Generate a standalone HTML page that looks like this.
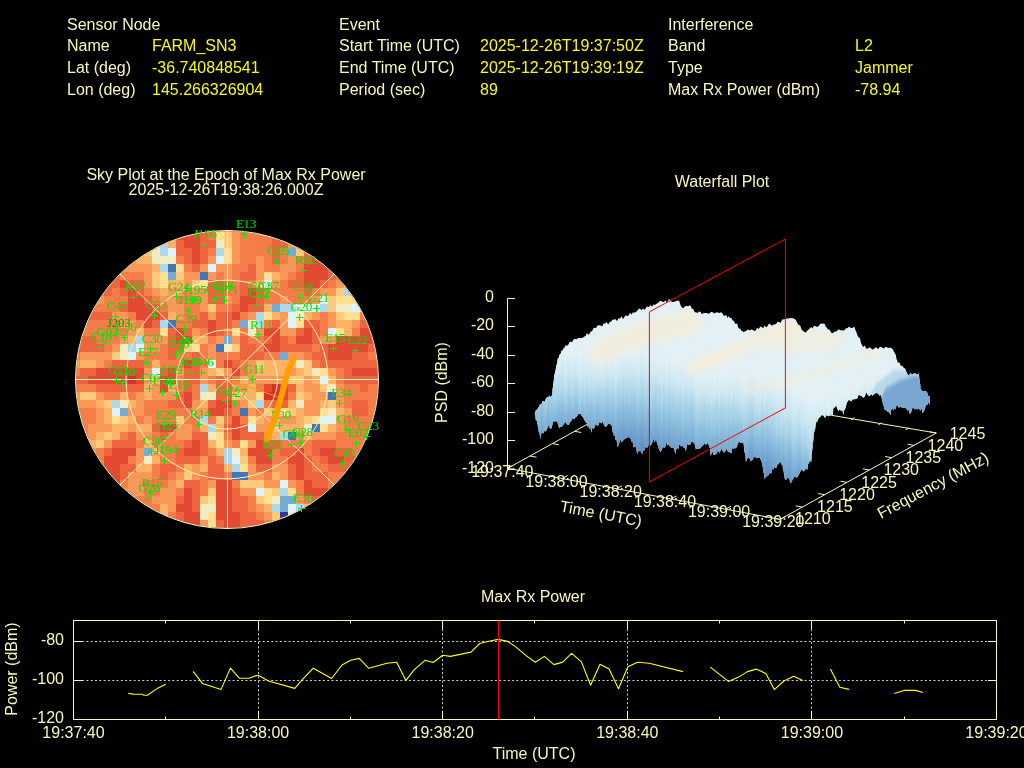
<!DOCTYPE html>
<html><head><meta charset="utf-8">
<style>
html,body{margin:0;padding:0;background:#000;width:1024px;height:768px;overflow:hidden}
svg{display:block;position:absolute;left:0;top:0;opacity:0.999}
text{font-family:"Liberation Sans",sans-serif;font-size:16px;fill:#f7f7bc}
.v{fill:#f8f81c}
.grid{stroke:#d0d0d0;stroke-width:1;stroke-dasharray:2 2.3;fill:none}
.ax{stroke:#f7f7bc;stroke-width:1;fill:none}
.dl{stroke:#ffff00;stroke-width:1.1;fill:none;stroke-linejoin:round}
.g{font-family:"Liberation Serif",serif;font-size:13px;fill:#00e400;letter-spacing:-0.25px}
.gd{fill:#00a000}
</style></head><body>
<svg width="1024" height="768" viewBox="0 0 1024 768">
<rect width="1024" height="768" fill="#000"/>
<!-- HEADER -->
<g id="hdr">
<text x="67" y="30">Sensor Node</text>
<text x="67" y="51">Name</text><text class="v" x="152" y="51">FARM_SN3</text>
<text x="67" y="73">Lat (deg)</text><text class="v" x="152" y="73">-36.740848541</text>
<text x="67" y="95">Lon (deg)</text><text class="v" x="152" y="95">145.266326904</text>
<text x="339" y="30">Event</text>
<text x="339" y="51">Start Time (UTC)</text><text class="v" x="480" y="51">2025-12-26T19:37:50Z</text>
<text x="339" y="73">End Time (UTC)</text><text class="v" x="480" y="73">2025-12-26T19:39:19Z</text>
<text x="339" y="95">Period (sec)</text><text class="v" x="480" y="95">89</text>
<text x="668" y="30">Interference</text>
<text x="668" y="51">Band</text><text class="v" x="855" y="51">L2</text>
<text x="668" y="73">Type</text><text class="v" x="855" y="73">Jammer</text>
<text x="668" y="95">Max Rx Power (dBm)</text><text class="v" x="855" y="95">-78.94</text>
</g>
<!-- TITLES -->
<text x="226" y="180" text-anchor="middle">Sky Plot at the Epoch of Max Rx Power</text>
<text x="226" y="195" text-anchor="middle">2025-12-26T19:38:26.000Z</text>
<text x="722" y="187" text-anchor="middle">Waterfall Plot</text>
<text x="533" y="602" text-anchor="middle">Max Rx Power</text>
<!-- SKY -->
<g id="sky">
<clipPath id="skc"><ellipse cx="227.0" cy="379.5" rx="151.0" ry="148.5"/></clipPath>
<g clip-path="url(#skc)" shape-rendering="crispEdges">
<rect x="70" y="225" width="320" height="310" fill="#ee643e"/>
<path fill="#d73027" d="M128 376h8v8h-8zM272 384h8v8h-8zM264 392h16v8h-16z"/>
<path fill="#e34a33" d="M176 224h16v8h-16zM176 232h24v8h-24zM336 232h8v8h-8zM184 240h16v8h-16zM328 240h16v8h-16zM192 248h8v8h-8zM320 248h16v8h-16zM192 256h8v8h-8zM312 256h16v8h-16zM304 264h24v8h-24zM304 272h24v8h-24zM120 280h8v8h-8zM304 280h16v8h-16zM128 288h8v8h-8zM248 288h8v8h-8zM128 296h16v8h-16zM240 296h16v8h-16zM128 304h24v8h-24zM240 304h8v8h-8zM136 312h24v8h-24zM232 312h8v8h-8zM384 312h8v8h-8zM144 320h8v8h-8zM208 320h8v8h-8zM376 320h16v8h-16zM176 328h8v8h-8zM208 328h8v8h-8zM264 328h16v8h-16zM304 328h8v8h-8zM360 328h32v8h-32zM176 336h16v8h-16zM272 336h8v8h-8zM296 336h16v8h-16zM336 336h56v8h-56zM264 344h16v8h-16zM328 344h40v8h-40zM328 352h24v8h-24zM184 360h8v8h-8zM224 360h8v8h-8zM96 368h48v8h-48zM168 368h8v8h-8zM232 368h8v8h-8zM352 368h40v8h-40zM88 376h40v8h-40zM136 376h8v8h-8zM160 376h16v8h-16zM160 384h8v8h-8zM264 384h8v8h-8zM280 384h8v8h-8zM184 392h8v8h-8zM280 392h8v8h-8zM184 400h8v8h-8zM216 400h16v8h-16zM208 408h16v8h-16zM232 416h8v8h-8zM160 424h16v8h-16zM232 424h8v8h-8zM232 432h8v8h-8zM192 440h8v8h-8zM256 440h8v8h-8zM112 448h24v8h-24zM184 448h16v8h-16zM248 448h24v8h-24zM296 448h8v8h-8zM320 448h16v8h-16zM104 456h24v8h-24zM256 456h16v8h-16zM288 456h16v8h-16zM328 456h16v8h-16zM96 464h24v8h-24zM296 464h8v8h-8zM88 472h32v8h-32zM296 472h8v8h-8zM80 480h40v8h-40zM216 480h16v8h-16zM304 480h8v8h-8zM80 488h32v8h-32zM184 488h8v8h-8zM216 488h16v8h-16zM304 488h24v8h-24zM88 496h16v8h-16zM184 496h8v8h-8zM216 496h16v8h-16zM88 504h8v8h-8zM176 504h16v8h-16zM216 504h16v8h-16zM184 512h16v8h-16zM216 512h24v8h-24zM184 520h16v8h-16zM224 520h16v8h-16zM184 528h16v8h-16zM224 528h16v8h-16zM184 536h16v8h-16zM224 536h16v8h-16z"/>
<path fill="#ee643e" d="M168 224h8v8h-8zM192 224h16v8h-16zM272 224h32v8h-32zM320 224h16v8h-16zM168 232h8v8h-8zM200 232h8v8h-8zM272 232h24v8h-24zM312 232h24v8h-24zM176 240h8v8h-8zM200 240h16v8h-16zM272 240h16v8h-16zM304 240h24v8h-24zM344 240h16v8h-16zM88 248h8v8h-8zM176 248h16v8h-16zM200 248h8v8h-8zM272 248h8v8h-8zM304 248h16v8h-16zM336 248h24v8h-24zM80 256h24v8h-24zM184 256h8v8h-8zM200 256h8v8h-8zM272 256h8v8h-8zM304 256h8v8h-8zM328 256h24v8h-24zM72 264h40v8h-40zM192 264h8v8h-8zM248 264h8v8h-8zM328 264h16v8h-16zM72 272h48v8h-48zM240 272h16v8h-16zM296 272h8v8h-8zM328 272h8v8h-8zM72 280h48v8h-48zM128 280h16v8h-16zM208 280h16v8h-16zM240 280h8v8h-8zM288 280h16v8h-16zM320 280h8v8h-8zM80 288h32v8h-32zM120 288h8v8h-8zM136 288h8v8h-8zM208 288h16v8h-16zM240 288h8v8h-8zM256 288h8v8h-8zM304 288h8v8h-8zM144 296h8v8h-8zM208 296h16v8h-16zM256 296h8v8h-8zM120 304h8v8h-8zM152 304h8v8h-8zM232 304h8v8h-8zM248 304h16v8h-16zM80 312h32v8h-32zM160 312h8v8h-8zM200 312h8v8h-8zM216 312h16v8h-16zM152 320h8v8h-8zM192 320h16v8h-16zM216 320h16v8h-16zM272 320h8v8h-8zM304 320h16v8h-16zM360 320h16v8h-16zM168 328h8v8h-8zM184 328h8v8h-8zM216 328h8v8h-8zM296 328h8v8h-8zM312 328h8v8h-8zM72 336h24v8h-24zM168 336h8v8h-8zM240 336h8v8h-8zM264 336h8v8h-8zM280 336h8v8h-8zM312 336h8v8h-8zM72 344h32v8h-32zM168 344h16v8h-16zM240 344h16v8h-16zM280 344h32v8h-32zM320 344h8v8h-8zM368 344h16v8h-16zM168 352h8v8h-8zM192 352h8v8h-8zM240 352h24v8h-24zM312 352h16v8h-16zM352 352h16v8h-16zM112 360h32v8h-32zM192 360h8v8h-8zM232 360h8v8h-8zM320 360h72v8h-72zM80 368h16v8h-16zM160 368h8v8h-8zM184 368h16v8h-16zM344 368h8v8h-8zM72 376h16v8h-16zM184 376h16v8h-16zM216 376h16v8h-16zM344 376h48v8h-48zM96 384h48v8h-48zM184 384h8v8h-8zM216 384h16v8h-16zM288 384h8v8h-8zM360 384h8v8h-8zM176 392h8v8h-8zM216 392h16v8h-16zM168 400h16v8h-16zM208 400h8v8h-8zM272 400h16v8h-16zM352 400h16v8h-16zM224 408h8v8h-8zM352 408h16v8h-16zM152 424h8v8h-8zM224 424h8v8h-8zM240 424h8v8h-8zM128 432h8v8h-8zM160 432h8v8h-8zM192 432h16v8h-16zM240 432h24v8h-24zM112 440h24v8h-24zM184 440h8v8h-8zM200 440h8v8h-8zM264 440h16v8h-16zM312 440h24v8h-24zM104 448h8v8h-8zM176 448h8v8h-8zM200 448h8v8h-8zM280 448h16v8h-16zM312 448h8v8h-8zM336 448h16v8h-16zM176 456h24v8h-24zM208 456h8v8h-8zM304 456h8v8h-8zM320 456h8v8h-8zM344 456h16v8h-16zM120 464h16v8h-16zM160 464h16v8h-16zM208 464h16v8h-16zM256 464h16v8h-16zM288 464h8v8h-8zM304 464h8v8h-8zM328 464h40v8h-40zM120 472h8v8h-8zM160 472h8v8h-8zM208 472h16v8h-16zM288 472h8v8h-8zM304 472h24v8h-24zM352 472h24v8h-24zM184 480h16v8h-16zM312 480h16v8h-16zM360 480h16v8h-16zM192 488h8v8h-8zM232 488h8v8h-8zM328 488h24v8h-24zM368 488h8v8h-8zM176 496h8v8h-8zM192 496h8v8h-8zM232 496h16v8h-16zM312 496h48v8h-48zM192 504h8v8h-8zM232 504h16v8h-16zM320 504h40v8h-40zM176 512h8v8h-8zM240 512h16v8h-16zM328 512h32v8h-32zM168 520h16v8h-16zM216 520h8v8h-8zM240 520h24v8h-24zM336 520h8v8h-8zM160 528h24v8h-24zM216 528h8v8h-8zM240 528h24v8h-24zM152 536h32v8h-32zM216 536h8v8h-8zM240 536h24v8h-24z"/>
<path fill="#f47d4a" d="M208 224h8v8h-8zM232 224h40v8h-40zM208 232h8v8h-8zM240 232h32v8h-32zM240 240h32v8h-32zM208 248h8v8h-8zM240 248h32v8h-32zM280 248h8v8h-8zM360 248h8v8h-8zM176 256h8v8h-8zM240 256h16v8h-16zM264 256h8v8h-8zM280 256h8v8h-8zM296 256h8v8h-8zM352 256h16v8h-16zM184 264h8v8h-8zM232 264h16v8h-16zM264 264h16v8h-16zM296 264h8v8h-8zM344 264h16v8h-16zM120 272h24v8h-24zM216 272h8v8h-8zM232 272h8v8h-8zM288 272h8v8h-8zM336 272h16v8h-16zM224 280h16v8h-16zM248 280h8v8h-8zM280 280h8v8h-8zM328 280h8v8h-8zM72 288h8v8h-8zM112 288h8v8h-8zM144 288h8v8h-8zM184 288h8v8h-8zM224 288h16v8h-16zM264 288h40v8h-40zM312 288h8v8h-8zM72 296h16v8h-16zM104 296h24v8h-24zM152 296h8v8h-8zM176 296h24v8h-24zM232 296h8v8h-8zM264 296h16v8h-16zM288 296h24v8h-24zM72 304h48v8h-48zM160 304h8v8h-8zM184 304h16v8h-16zM216 304h16v8h-16zM72 312h8v8h-8zM128 312h8v8h-8zM184 312h16v8h-16zM240 312h8v8h-8zM320 312h8v8h-8zM360 312h24v8h-24zM72 320h48v8h-48zM136 320h8v8h-8zM176 320h16v8h-16zM232 320h8v8h-8zM264 320h8v8h-8zM320 320h8v8h-8zM72 328h56v8h-56zM144 328h16v8h-16zM200 328h8v8h-8zM224 328h8v8h-8zM240 328h8v8h-8zM320 328h8v8h-8zM352 328h8v8h-8zM96 336h24v8h-24zM208 336h8v8h-8zM248 336h16v8h-16zM288 336h8v8h-8zM104 344h8v8h-8zM160 344h8v8h-8zM200 344h8v8h-8zM256 344h8v8h-8zM312 344h8v8h-8zM384 344h8v8h-8zM72 352h8v8h-8zM144 352h24v8h-24zM176 352h16v8h-16zM200 352h8v8h-8zM216 352h24v8h-24zM264 352h16v8h-16zM304 352h8v8h-8zM368 352h24v8h-24zM104 360h8v8h-8zM144 360h8v8h-8zM160 360h24v8h-24zM200 360h8v8h-8zM216 360h8v8h-8zM240 360h8v8h-8zM312 360h8v8h-8zM72 368h8v8h-8zM240 368h8v8h-8zM336 368h8v8h-8zM176 376h8v8h-8zM208 376h8v8h-8zM232 376h8v8h-8zM336 376h8v8h-8zM72 384h24v8h-24zM176 384h8v8h-8zM192 384h8v8h-8zM256 384h8v8h-8zM344 384h16v8h-16zM368 384h24v8h-24zM104 392h16v8h-16zM128 392h8v8h-8zM192 392h8v8h-8zM288 392h8v8h-8zM344 392h48v8h-48zM144 400h24v8h-24zM232 400h8v8h-8zM264 400h8v8h-8zM344 400h8v8h-8zM368 400h24v8h-24zM72 408h24v8h-24zM144 408h48v8h-48zM232 408h8v8h-8zM256 408h8v8h-8zM368 408h24v8h-24zM72 416h24v8h-24zM136 416h8v8h-8zM152 416h24v8h-24zM184 416h16v8h-16zM208 416h8v8h-8zM224 416h8v8h-8zM240 416h8v8h-8zM344 416h48v8h-48zM72 424h16v8h-16zM192 424h8v8h-8zM344 424h48v8h-48zM72 432h16v8h-16zM120 432h8v8h-8zM152 432h8v8h-8zM168 432h8v8h-8zM224 432h8v8h-8zM336 432h56v8h-56zM72 440h8v8h-8zM136 440h8v8h-8zM152 440h32v8h-32zM232 440h8v8h-8zM280 440h32v8h-32zM336 440h56v8h-56zM96 448h8v8h-8zM160 448h16v8h-16zM208 448h8v8h-8zM272 448h8v8h-8zM304 448h8v8h-8zM352 448h40v8h-40zM88 456h16v8h-16zM128 456h8v8h-8zM160 456h16v8h-16zM216 456h8v8h-8zM248 456h8v8h-8zM272 456h16v8h-16zM312 456h8v8h-8zM360 456h32v8h-32zM80 464h16v8h-16zM152 464h8v8h-8zM176 464h8v8h-8zM312 464h16v8h-16zM368 464h16v8h-16zM72 472h16v8h-16zM152 472h8v8h-8zM168 472h8v8h-8zM200 472h8v8h-8zM224 472h8v8h-8zM264 472h8v8h-8zM328 472h24v8h-24zM376 472h8v8h-8zM72 480h8v8h-8zM120 480h8v8h-8zM144 480h24v8h-24zM200 480h8v8h-8zM232 480h8v8h-8zM296 480h8v8h-8zM328 480h32v8h-32zM144 488h16v8h-16zM176 488h8v8h-8zM200 488h8v8h-8zM296 488h8v8h-8zM352 488h16v8h-16zM136 496h16v8h-16zM248 496h8v8h-8zM304 496h8v8h-8zM360 496h8v8h-8zM136 504h24v8h-24zM248 504h8v8h-8zM128 512h24v8h-24zM168 512h8v8h-8zM256 512h8v8h-8zM120 520h24v8h-24zM264 520h8v8h-8zM120 528h16v8h-16zM264 528h8v8h-8zM264 536h8v8h-8z"/>
<path fill="#f99858" d="M224 224h8v8h-8zM304 224h16v8h-16zM104 232h16v8h-16zM232 232h8v8h-8zM296 232h16v8h-16zM96 240h32v8h-32zM232 240h8v8h-8zM288 240h16v8h-16zM96 248h40v8h-40zM232 248h8v8h-8zM104 256h32v8h-32zM208 256h8v8h-8zM232 256h8v8h-8zM256 256h8v8h-8zM288 256h8v8h-8zM112 264h40v8h-40zM200 264h8v8h-8zM216 264h16v8h-16zM256 264h8v8h-8zM280 264h16v8h-16zM144 272h8v8h-8zM184 272h16v8h-16zM208 272h8v8h-8zM224 272h8v8h-8zM256 272h8v8h-8zM280 272h8v8h-8zM144 280h8v8h-8zM184 280h8v8h-8zM272 280h8v8h-8zM336 280h8v8h-8zM152 288h8v8h-8zM168 288h16v8h-16zM192 288h16v8h-16zM320 288h16v8h-16zM88 296h16v8h-16zM160 296h16v8h-16zM200 296h8v8h-8zM224 296h8v8h-8zM280 296h8v8h-8zM312 296h8v8h-8zM168 304h16v8h-16zM200 304h8v8h-8zM112 312h16v8h-16zM176 312h8v8h-8zM208 312h8v8h-8zM248 312h8v8h-8zM280 312h8v8h-8zM312 312h8v8h-8zM328 312h8v8h-8zM120 320h16v8h-16zM280 320h8v8h-8zM328 320h8v8h-8zM352 320h8v8h-8zM128 328h8v8h-8zM192 328h8v8h-8zM256 328h8v8h-8zM280 328h16v8h-16zM120 336h8v8h-8zM144 336h24v8h-24zM216 336h8v8h-8zM232 336h8v8h-8zM320 336h16v8h-16zM112 344h8v8h-8zM144 344h16v8h-16zM208 344h8v8h-8zM80 352h32v8h-32zM136 352h8v8h-8zM208 352h8v8h-8zM288 352h16v8h-16zM72 360h8v8h-8zM96 360h8v8h-8zM248 360h8v8h-8zM144 368h8v8h-8zM176 368h8v8h-8zM200 368h8v8h-8zM224 368h8v8h-8zM248 368h8v8h-8zM288 368h8v8h-8zM328 368h8v8h-8zM144 376h8v8h-8zM200 376h8v8h-8zM248 376h40v8h-40zM304 376h8v8h-8zM152 384h8v8h-8zM232 384h16v8h-16zM304 384h16v8h-16zM336 384h8v8h-8zM72 392h8v8h-8zM96 392h8v8h-8zM136 392h8v8h-8zM152 392h24v8h-24zM312 392h16v8h-16zM336 392h8v8h-8zM72 400h24v8h-24zM136 400h8v8h-8zM192 400h8v8h-8zM240 400h8v8h-8zM304 400h16v8h-16zM336 400h8v8h-8zM96 408h8v8h-8zM128 408h16v8h-16zM192 408h16v8h-16zM248 408h8v8h-8zM304 408h16v8h-16zM344 408h8v8h-8zM96 416h8v8h-8zM144 416h8v8h-8zM264 416h8v8h-8zM280 416h16v8h-16zM336 416h8v8h-8zM88 424h24v8h-24zM128 424h8v8h-8zM176 424h16v8h-16zM256 424h16v8h-16zM336 424h8v8h-8zM88 432h8v8h-8zM136 432h16v8h-16zM176 432h16v8h-16zM264 432h8v8h-8zM296 432h8v8h-8zM312 432h24v8h-24zM104 440h8v8h-8zM224 440h8v8h-8zM248 440h8v8h-8zM72 448h24v8h-24zM136 448h8v8h-8zM152 448h8v8h-8zM72 456h16v8h-16zM136 456h8v8h-8zM200 456h8v8h-8zM72 464h8v8h-8zM192 464h8v8h-8zM248 464h8v8h-8zM272 464h16v8h-16zM128 472h24v8h-24zM176 472h8v8h-8zM192 472h8v8h-8zM248 472h16v8h-16zM280 472h8v8h-8zM128 480h16v8h-16zM168 480h8v8h-8zM208 480h8v8h-8zM264 480h16v8h-16zM288 480h8v8h-8zM112 488h32v8h-32zM160 488h16v8h-16zM240 488h16v8h-16zM104 496h32v8h-32zM152 496h24v8h-24zM296 496h8v8h-8zM96 504h40v8h-40zM168 504h8v8h-8zM256 504h8v8h-8zM96 512h32v8h-32zM264 512h8v8h-8zM104 520h16v8h-16zM200 520h8v8h-8zM272 520h16v8h-16zM200 528h8v8h-8zM272 528h24v8h-24zM200 536h8v8h-8zM272 536h32v8h-32z"/>
<path fill="#fdb266" d="M144 224h24v8h-24zM216 224h8v8h-8zM152 232h16v8h-16zM168 240h8v8h-8zM136 256h16v8h-16zM152 264h8v8h-8zM272 272h8v8h-8zM168 280h16v8h-16zM256 280h8v8h-8zM160 288h8v8h-8zM264 304h8v8h-8zM168 312h8v8h-8zM272 312h8v8h-8zM304 312h8v8h-8zM336 320h16v8h-16zM136 328h8v8h-8zM344 328h8v8h-8zM128 336h8v8h-8zM192 336h16v8h-16zM80 360h16v8h-16zM152 360h8v8h-8zM264 360h32v8h-32zM208 368h8v8h-8zM256 368h32v8h-32zM296 368h8v8h-8zM152 376h8v8h-8zM240 376h8v8h-8zM312 376h8v8h-8zM328 376h8v8h-8zM144 384h8v8h-8zM168 384h8v8h-8zM208 384h8v8h-8zM248 384h8v8h-8zM296 384h8v8h-8zM120 392h8v8h-8zM144 392h8v8h-8zM240 392h16v8h-16zM304 392h8v8h-8zM96 400h8v8h-8zM128 400h8v8h-8zM200 400h8v8h-8zM288 400h8v8h-8zM320 400h8v8h-8zM104 408h8v8h-8zM272 408h8v8h-8zM296 408h8v8h-8zM336 408h8v8h-8zM104 416h8v8h-8zM128 416h8v8h-8zM256 416h8v8h-8zM272 416h8v8h-8zM296 416h8v8h-8zM112 424h16v8h-16zM136 424h16v8h-16zM200 424h8v8h-8zM216 424h8v8h-8zM280 424h24v8h-24zM328 424h8v8h-8zM96 432h8v8h-8zM112 432h8v8h-8zM272 432h8v8h-8zM304 432h8v8h-8zM80 440h16v8h-16zM144 440h8v8h-8zM208 440h8v8h-8zM216 448h8v8h-8zM240 448h8v8h-8zM152 456h8v8h-8zM136 464h16v8h-16zM184 464h8v8h-8zM200 464h8v8h-8zM224 464h8v8h-8zM272 472h8v8h-8zM176 480h8v8h-8zM160 504h8v8h-8zM264 504h8v8h-8zM304 504h16v8h-16zM152 512h16v8h-16zM304 512h24v8h-24zM144 520h24v8h-24zM312 520h24v8h-24zM136 528h24v8h-24zM320 528h16v8h-16zM136 536h16v8h-16z"/>
<path fill="#fdc97b" d="M120 224h8v8h-8zM120 232h16v8h-16zM224 232h8v8h-8zM128 240h16v8h-16zM224 240h8v8h-8zM136 248h16v8h-16zM296 248h8v8h-8zM368 256h8v8h-8zM360 264h16v8h-16zM152 272h8v8h-8zM176 272h8v8h-8zM352 272h24v8h-24zM152 280h8v8h-8zM192 280h8v8h-8zM344 280h24v8h-24zM336 288h8v8h-8zM328 296h8v8h-8zM208 304h8v8h-8zM328 304h8v8h-8zM336 312h8v8h-8zM184 344h8v8h-8zM232 344h8v8h-8zM112 352h8v8h-8zM256 360h8v8h-8zM304 360h8v8h-8zM216 368h8v8h-8zM304 368h8v8h-8zM288 376h16v8h-16zM320 384h8v8h-8zM80 392h16v8h-16zM232 392h8v8h-8zM296 392h8v8h-8zM104 400h8v8h-8zM248 400h8v8h-8zM328 400h8v8h-8zM264 408h8v8h-8zM288 408h8v8h-8zM120 416h8v8h-8zM176 416h8v8h-8zM216 416h8v8h-8zM304 416h8v8h-8zM272 424h8v8h-8zM104 432h8v8h-8zM96 440h8v8h-8zM240 456h8v8h-8zM184 472h8v8h-8zM240 480h24v8h-24zM208 488h8v8h-8zM272 488h8v8h-8zM200 496h8v8h-8zM256 496h8v8h-8zM272 512h8v8h-8z"/>
<path fill="#fee090" d="M216 232h8v8h-8zM224 248h8v8h-8zM224 256h8v8h-8zM176 264h8v8h-8zM160 272h8v8h-8zM264 272h8v8h-8zM376 272h8v8h-8zM160 280h8v8h-8zM200 280h8v8h-8zM368 280h16v8h-16zM360 288h16v8h-16zM336 296h32v8h-32zM264 312h8v8h-8zM344 312h16v8h-16zM296 320h8v8h-8zM160 328h8v8h-8zM232 328h8v8h-8zM336 328h8v8h-8zM192 344h8v8h-8zM320 368h8v8h-8zM256 392h8v8h-8zM280 408h8v8h-8zM320 408h8v8h-8zM112 416h8v8h-8zM248 416h8v8h-8zM312 416h8v8h-8zM320 424h8v8h-8zM216 432h8v8h-8zM216 440h8v8h-8zM240 440h8v8h-8zM240 464h8v8h-8zM264 488h8v8h-8zM288 488h8v8h-8zM208 496h8v8h-8zM264 496h8v8h-8zM208 512h8v8h-8zM208 520h8v8h-8zM208 528h8v8h-8zM208 536h8v8h-8z"/>
<path fill="#f1ecc2" d="M216 240h8v8h-8zM152 248h8v8h-8zM152 256h24v8h-24zM336 304h16v8h-16zM296 312h8v8h-8zM248 320h8v8h-8zM248 328h8v8h-8zM120 344h8v8h-8zM224 344h8v8h-8zM120 352h8v8h-8zM296 360h8v8h-8zM312 368h8v8h-8zM328 384h8v8h-8zM200 392h16v8h-16zM120 400h8v8h-8zM296 400h8v8h-8zM328 408h8v8h-8zM304 424h8v8h-8zM208 432h8v8h-8zM232 448h8v8h-8zM144 456h8v8h-8zM272 496h8v8h-8zM200 504h16v8h-16zM200 512h8v8h-8z"/>
<path fill="#e0f3f8" d="M128 224h16v8h-16zM136 232h16v8h-16zM144 240h16v8h-16zM168 248h8v8h-8zM216 256h8v8h-8zM208 264h8v8h-8zM264 280h8v8h-8zM384 280h8v8h-8zM376 288h16v8h-16zM320 296h8v8h-8zM368 296h24v8h-24zM296 304h24v8h-24zM352 304h40v8h-40zM288 312h8v8h-8zM288 320h8v8h-8zM328 328h8v8h-8zM136 344h8v8h-8zM128 352h8v8h-8zM208 360h8v8h-8zM152 368h8v8h-8zM320 376h8v8h-8zM112 408h8v8h-8zM320 416h16v8h-16zM248 424h8v8h-8zM232 456h8v8h-8zM280 480h8v8h-8zM256 488h8v8h-8zM288 504h8v8h-8zM288 512h16v8h-16zM288 520h24v8h-24zM296 528h24v8h-24zM304 536h16v8h-16z"/>
<path fill="#abd9e9" d="M160 240h8v8h-8zM160 248h8v8h-8zM216 248h8v8h-8zM160 264h8v8h-8zM344 288h16v8h-16zM280 304h16v8h-16zM320 304h8v8h-8zM256 312h8v8h-8zM160 320h8v8h-8zM256 320h8v8h-8zM136 336h8v8h-8zM128 344h8v8h-8zM200 384h8v8h-8zM112 400h8v8h-8zM256 400h8v8h-8zM200 416h8v8h-8zM208 424h8v8h-8zM280 432h8v8h-8zM224 448h8v8h-8zM224 456h8v8h-8zM232 464h8v8h-8zM280 488h8v8h-8zM272 504h8v8h-8zM296 504h8v8h-8z"/>
<path fill="#74add1" d="M288 248h8v8h-8zM168 272h8v8h-8zM272 304h8v8h-8zM240 320h8v8h-8zM224 336h8v8h-8zM280 352h8v8h-8zM120 408h8v8h-8zM144 448h8v8h-8zM280 496h16v8h-16zM280 504h8v8h-8z"/>
<path fill="#4575b4" d="M168 264h8v8h-8zM200 272h8v8h-8zM168 320h8v8h-8zM216 344h8v8h-8zM328 392h8v8h-8zM240 408h8v8h-8zM312 424h8v8h-8zM288 432h8v8h-8zM232 472h16v8h-16z"/>
<path fill="#313695" d="M280 512h8v8h-8z"/>
</g>
<g class="ax" stroke-width="1">
<ellipse cx="227.0" cy="379.5" rx="50.50" ry="49.67"/>
<ellipse cx="227.0" cy="379.5" rx="101.00" ry="99.33"/>
<ellipse cx="227.0" cy="379.5" rx="151.50" ry="149.00"/>
<line x1="75.5" y1="379.5" x2="378.5" y2="379.5"/>
<line x1="227.5" y1="230.5" x2="227.5" y2="528.5"/>
<line x1="119.9" y1="274.1" x2="334.1" y2="484.9"/>
<line x1="119.9" y1="484.9" x2="334.1" y2="274.1"/>
</g>
<line x1="227.5" y1="379.5" x2="277.5" y2="396.8" stroke="#ffa000" stroke-width="1"/>
<path d="M241.0 234.5h7M244.5 231.0v7M200.0 244.5h7M203.5 241.0v7M273.0 261.5h7M276.5 258.0v7M300.0 270.5h7M303.5 267.0v7M130.0 297.5h7M133.5 294.0v7M173.0 296.5h7M176.5 293.0v7M189.0 300.5h7M192.5 297.0v7M185.0 310.5h7M188.5 307.0v7M181.0 329.5h7M184.5 326.0v7M112.0 316.5h7M115.5 313.0v7M151.0 315.5h7M154.5 312.0v7M211.0 299.5h7M214.5 296.0v7M218.0 296.5h7M221.5 293.0v7M221.0 300.5h7M224.5 297.0v7M263.0 296.5h7M266.5 293.0v7M254.0 296.5h7M257.5 293.0v7M254.0 304.5h7M257.5 301.0v7M297.0 297.5h7M300.5 294.0v7M313.0 308.5h7M316.5 305.0v7M296.0 317.5h7M299.5 314.0v7M255.0 334.5h7M258.5 331.0v7M330.0 348.5h7M333.5 345.0v7M352.0 350.5h7M355.5 347.0v7M113.0 333.5h7M116.5 330.0v7M121.0 337.5h7M124.5 334.0v7M102.0 342.5h7M105.5 339.0v7M96.0 347.5h7M99.5 344.0v7M147.0 348.5h7M150.5 345.0v7M143.0 362.5h7M146.5 359.0v7M177.0 350.5h7M180.5 347.0v7M173.0 354.5h7M176.5 351.0v7M186.0 372.5h7M189.5 369.0v7M198.0 372.5h7M201.5 369.0v7M167.0 380.5h7M170.5 377.0v7M113.0 380.5h7M116.5 377.0v7M119.0 382.5h7M122.5 379.0v7M146.0 388.5h7M149.5 385.0v7M159.0 392.5h7M162.5 389.0v7M173.0 395.5h7M176.5 392.0v7M161.0 424.5h7M164.5 421.0v7M195.0 424.5h7M198.5 421.0v7M222.0 400.5h7M225.5 397.0v7M231.0 403.5h7M234.5 400.0v7M249.0 379.5h7M252.5 376.0v7M336.0 403.5h7M339.5 400.0v7M276.0 425.5h7M279.5 422.0v7M343.0 429.5h7M346.5 426.0v7M363.0 436.5h7M366.5 433.0v7M353.0 443.5h7M356.5 440.0v7M288.0 444.5h7M291.5 441.0v7M297.0 442.5h7M300.5 439.0v7M267.0 455.5h7M270.5 452.0v7M339.0 463.5h7M342.5 460.0v7M298.0 508.5h7M301.5 505.0v7M162.0 436.5h7M165.5 433.0v7M148.0 451.5h7M151.5 448.0v7M161.0 460.5h7M164.5 457.0v7M147.0 493.5h7M150.5 490.0v7M144.0 498.5h7M147.5 495.0v7" stroke="#00f000" stroke-width="1" fill="none"/>
<g text-anchor="middle"><text class="g" x="246.0" y="228.0">E13</text><text class="g" x="205.1" y="237.9">J196</text><text class="g" x="278.4" y="254.9">G05</text><text class="g" x="305.4" y="264.0">R12</text><text class="g" x="135.1" y="290.8">R17</text><text class="g" x="178.8" y="290.5">G24</text><text class="g" x="194.5" y="294.1">J195</text><text class="g" x="190.1" y="304.3">J199</text><text class="g" x="186.3" y="323.0">C39</text><text class="g" x="117.1" y="309.5">C47</text><text class="g" x="156.2" y="309.0">C03</text><text class="g" x="216.3" y="292.9">C59</text><text class="g" x="223.1" y="289.8">C38</text><text class="g" x="226.5" y="293.7">J171</text><text class="g" x="268.2" y="289.8">C37</text><text class="g" x="259.6" y="290.5">G04</text><text class="g" x="259.1" y="298.3">C42</text><text class="g" x="302.6" y="290.8">C58</text><text class="g" x="318.2" y="301.9">G21</text><text class="g" x="301.3" y="311.2">G20</text><text class="g" x="260.4" y="328.5">R13</text><text class="g" x="335.1" y="342.1">E15</text><text class="g" x="357.3" y="344.3">E22</text><text class="g gd" x="118.7" y="327.1">J203</text><text class="g" x="126.0" y="331.0">C36</text><text class="g" x="107.4" y="335.7">G02</text><text class="g" x="101.2" y="340.8">C10</text><text class="g" x="152.3" y="342.5">C30</text><text class="g" x="148.1" y="356.0">E27</text><text class="g" x="182.7" y="343.5">G06</text><text class="g" x="178.8" y="348.2">C16</text><text class="g" x="191.3" y="365.8">R20</text><text class="g" x="203.1" y="365.8">C46</text><text class="g" x="171.8" y="374.0">C09</text><text class="g" x="118.7" y="374.0">C21</text><text class="g" x="124.5" y="375.5">G10</text><text class="g" x="151.2" y="381.8">C07</text><text class="g" x="164.0" y="385.7">C40</text><text class="g" x="178.8" y="388.8">E19</text><text class="g" x="166.0" y="418.5">E29</text><text class="g" x="200.2" y="418.0">R14</text><text class="g" x="227.3" y="394.5">G12</text><text class="g" x="236.2" y="397.1">C27</text><text class="g" x="254.1" y="372.9">G11</text><text class="g" x="341.3" y="396.8">E34</text><text class="g" x="281.0" y="419.0">E30</text><text class="g" x="347.9" y="422.9">G19</text><text class="g" x="368.2" y="430.3">C23</text><text class="g" x="358.1" y="436.9">E02</text><text class="g" x="293.2" y="437.7">G08</text><text class="g" x="302.3" y="436.2">C28</text><text class="g" x="272.1" y="449.1">R23</text><text class="g" x="344.3" y="456.9">C49</text><text class="g" x="302.9" y="502.1">E36</text><text class="g" x="167.1" y="429.8">G25</text><text class="g" x="153.1" y="444.8">C36</text><text class="g" x="166.0" y="453.7">J194</text><text class="g" x="152.0" y="487.3">R15</text><text class="g" x="149.1" y="491.9">G28</text></g>
<polyline points="293.6,358.5 287.6,372 283,390 278.2,407.5 272,426 266.6,439" fill="none" stroke="#ffa000" stroke-width="6" stroke-linecap="round" stroke-linejoin="round"/>
</g>
<!-- WATERFALL -->
<g id="wf">
<defs><filter id="b3" x="-20%" y="-20%" width="140%" height="140%"><feGaussianBlur stdDeviation="3.5"/></filter><filter id="bv" x="-5%" y="-5%" width="110%" height="110%"><feGaussianBlur stdDeviation="0.5 2.2"/></filter><filter id="b2" x="-20%" y="-20%" width="140%" height="140%"><feGaussianBlur stdDeviation="2.5"/></filter>
<clipPath id="wfc"><polygon points="534.5,414.8 535.2,412.1 536.0,410.3 536.7,409.9 537.4,408.9 538.4,407.6 539.4,406.1 540.3,403.5 541.3,404.9 542.3,401.4 543.3,401.1 544.6,401.9 545.8,399.0 547.1,396.9 548.3,397.0 549.6,395.5 550.8,397.2 552.1,395.2 552.3,393.9 552.4,391.6 552.6,388.9 552.8,387.8 553.0,387.0 553.1,386.0 553.3,383.3 553.5,383.2 553.7,381.1 553.8,380.6 554.0,377.7 554.3,375.4 554.6,373.3 554.9,374.1 555.2,371.6 555.5,370.8 555.8,368.9 556.1,366.5 556.4,366.0 556.7,364.0 557.0,364.2 557.3,361.7 557.6,360.3 557.9,358.1 558.7,358.6 559.4,354.7 560.2,354.8 561.0,352.8 561.7,350.2 562.5,351.3 563.3,348.1 564.0,349.0 564.8,346.4 566.0,345.2 567.1,345.8 568.3,344.8 569.4,342.2 570.6,341.5 572.1,342.3 573.6,339.2 575.2,338.9 576.7,339.3 578.2,337.9 579.7,337.9 581.3,337.9 582.8,337.8 584.3,336.6 585.6,336.1 586.9,333.1 588.2,334.7 589.5,333.8 590.8,331.4 592.1,331.3 593.4,328.3 594.7,327.7 596.0,327.9 597.5,325.6 599.0,325.3 600.6,325.4 602.1,326.6 603.6,323.4 605.1,323.4 606.7,322.0 608.2,324.4 609.7,322.0 611.2,321.5 612.6,319.6 614.1,319.7 615.6,318.9 617.1,321.3 618.5,317.9 620.0,318.7 621.4,316.3 622.9,319.0 624.3,317.2 625.7,315.3 627.2,316.1 628.6,315.4 630.0,312.6 631.5,314.7 632.9,312.2 634.4,312.8 635.8,312.1 637.3,310.8 638.8,308.6 640.2,309.0 641.7,310.0 643.1,308.6 644.6,310.1 646.1,307.4 647.5,306.4 649.0,306.9 650.5,305.1 652.0,306.8 653.4,304.5 654.9,304.9 656.4,303.7 657.8,303.3 659.3,301.5 660.8,300.8 662.4,301.8 663.9,301.9 665.5,300.4 667.1,302.4 668.6,299.6 670.2,299.5 671.7,301.9 673.3,302.0 674.9,301.4 676.4,301.0 678.0,300.8 679.1,300.5 680.2,304.2 681.2,306.6 682.3,307.8 683.4,307.9 685.0,306.2 686.6,305.9 688.2,306.3 689.8,305.3 690.9,306.2 691.9,309.1 693.0,308.6 694.1,311.3 695.2,312.5 696.2,312.3 697.3,313.3 698.9,311.5 700.5,312.0 702.0,314.2 703.6,312.9 705.2,313.1 706.8,312.9 708.4,313.8 709.9,312.9 711.5,311.8 713.1,312.6 714.7,313.4 716.3,312.2 717.8,312.4 719.4,313.0 721.0,312.2 722.3,313.2 723.6,315.5 724.9,316.1 726.2,314.8 727.5,318.1 728.7,316.1 730.0,318.0 731.3,318.1 732.6,320.6 733.9,320.8 735.0,323.5 736.0,324.1 737.1,323.3 738.2,327.5 739.2,328.8 740.3,328.4 741.4,330.9 742.4,330.7 743.5,332.2 745.0,331.2 746.5,330.7 748.1,329.2 749.6,330.4 751.1,329.6 752.6,329.8 754.2,331.1 755.7,330.6 757.2,327.7 758.8,329.1 760.3,326.4 761.8,327.3 763.2,328.3 764.7,325.5 766.1,327.5 767.5,326.2 769.0,323.5 770.4,324.3 771.8,325.7 773.3,324.8 774.7,324.5 776.1,324.1 777.6,321.8 779.0,321.9 780.6,323.0 782.2,319.6 783.8,319.6 785.5,318.8 787.1,318.5 788.7,318.4 790.3,317.9 791.9,318.2 793.2,318.2 794.5,318.9 795.9,320.1 797.2,323.0 798.1,324.4 799.1,325.4 800.0,325.3 800.9,327.7 801.8,330.3 802.8,330.4 803.7,331.6 805.2,332.7 806.7,331.4 808.1,330.1 809.6,328.4 811.1,326.9 812.5,328.4 814.0,325.7 815.5,326.2 817.2,326.9 818.9,325.7 820.6,323.6 822.3,323.8 824.0,323.4 825.0,324.4 826.0,327.5 826.9,327.2 827.9,330.0 828.9,329.0 829.8,330.3 830.8,332.0 831.8,333.2 833.4,332.7 834.9,331.4 836.5,331.4 838.0,329.5 839.6,329.8 841.2,330.4 842.7,330.3 844.3,330.6 845.8,328.2 847.4,328.3 849.1,326.6 850.8,327.9 852.6,328.1 854.3,326.4 854.9,328.3 855.5,330.4 856.1,330.9 856.8,333.5 857.4,334.9 858.0,336.6 858.6,337.3 859.2,338.1 859.9,337.9 860.5,340.5 861.2,343.7 861.8,344.4 862.5,346.1 863.1,346.9 864.7,345.6 866.3,348.8 868.0,348.5 869.6,347.3 871.2,348.4 872.8,349.8 874.5,348.2 876.2,347.3 878.0,349.3 879.7,346.9 881.2,346.8 882.7,348.2 884.2,348.3 885.7,346.7 887.3,347.6 888.8,348.1 890.3,347.4 891.8,348.6 893.3,349.8 893.8,351.9 894.4,351.9 894.9,353.9 895.5,354.1 896.0,355.8 896.6,359.8 897.1,359.5 897.7,362.8 898.2,362.5 899.5,362.6 900.8,366.0 902.1,365.4 903.1,367.1 904.1,368.3 905.1,368.3 906.0,371.0 907.0,373.1 908.0,375.2 909.0,375.2 910.6,373.2 912.2,374.5 913.9,373.5 915.5,373.3 917.1,374.8 918.7,373.2 918.9,375.7 919.1,375.0 919.3,378.7 919.5,378.7 919.7,380.7 919.9,382.9 920.1,383.9 920.3,384.1 920.5,388.5 920.7,388.9 922.7,391.4 924.6,390.8 925.8,391.2 927.0,392.1 928.3,396.1 929.5,395.7 929.6,398.6 929.7,400.7 929.7,401.2 929.8,401.1 929.9,404.5 929.5,404.5 928.5,402.1 927.5,404.8 926.5,404.5 925.6,406.3 924.6,409.4 923.6,411.8 922.6,413.3 921.4,407.7 920.2,410.7 919.0,408.0 917.8,409.4 916.5,408.5 915.2,409.5 913.8,408.2 912.5,407.8 911.2,412.2 909.9,414.3 908.6,409.9 907.3,410.5 906.0,408.1 904.7,407.7 903.4,407.7 902.1,407.4 900.4,407.1 898.7,407.4 897.0,404.4 895.3,409.4 894.3,408.1 893.3,410.6 892.4,408.3 891.4,409.1 890.4,415.2 889.2,411.8 888.0,412.2 886.9,410.8 885.7,410.1 884.5,409.4 884.0,406.2 883.4,405.9 882.9,403.6 882.4,402.0 881.8,398.9 881.3,395.8 880.8,395.0 880.2,395.2 879.7,395.7 878.0,393.6 876.2,393.1 874.5,393.8 872.8,395.7 871.2,394.3 869.6,396.1 868.0,395.3 866.3,392.2 864.7,396.7 863.1,397.7 861.6,395.7 860.1,395.5 858.7,394.8 857.2,398.6 855.7,398.8 854.2,399.4 852.8,399.1 851.3,401.6 850.2,400.7 849.0,399.4 847.9,401.3 846.8,402.4 845.6,408.0 844.5,409.4 844.2,411.2 843.8,409.7 843.5,415.2 842.2,409.8 841.0,410.9 839.7,409.3 838.5,411.3 837.2,408.4 836.0,404.7 834.7,408.4 834.2,406.0 833.8,407.5 833.3,408.6 832.8,415.2 831.2,414.5 829.7,415.8 828.1,416.2 826.6,414.9 825.0,418.1 823.4,415.5 821.9,415.0 820.3,416.8 818.8,418.0 817.2,422.0 816.7,419.9 816.2,423.1 815.7,424.3 815.2,428.8 814.9,430.3 814.7,428.2 814.4,432.7 814.1,430.9 813.8,433.9 813.6,437.3 813.3,440.5 813.2,441.4 813.0,442.3 812.9,441.9 812.7,443.1 812.6,447.6 812.4,449.4 812.3,448.6 812.2,449.9 812.0,452.4 811.9,454.7 811.7,454.4 811.6,458.9 811.4,459.0 811.3,462.0 810.5,461.3 809.7,460.3 809.0,463.5 808.2,463.8 807.4,469.8 806.0,468.4 804.6,470.6 803.2,471.5 801.9,468.9 800.5,471.2 799.1,474.2 797.7,476.7 796.6,477.7 795.4,476.5 794.2,476.7 793.1,479.1 791.9,481.1 790.8,483.5 789.3,479.2 787.9,476.9 786.5,479.4 785.0,479.6 784.6,477.9 784.2,474.8 783.8,472.8 783.4,469.9 783.0,470.8 782.7,466.3 782.3,465.0 781.9,464.6 781.5,464.5 781.1,464.0 780.0,460.2 778.9,464.6 777.8,463.2 776.7,467.2 775.7,468.3 774.6,466.7 773.5,470.1 772.4,468.0 771.3,473.8 769.9,472.5 768.6,475.2 767.2,476.2 765.9,476.4 764.5,479.6 764.2,474.7 764.0,471.7 763.7,474.1 763.4,471.2 763.1,470.5 762.9,465.1 762.6,467.7 762.3,466.5 762.0,464.9 761.8,461.6 761.5,462.0 759.9,457.5 758.4,457.6 756.8,458.3 755.3,457.0 753.7,457.3 752.1,460.4 750.6,461.1 749.0,457.3 747.5,458.3 745.9,462.0 745.7,460.3 745.5,455.7 745.2,455.6 745.0,454.1 744.8,452.8 744.6,452.2 744.3,451.5 744.1,448.6 743.9,446.7 743.7,442.2 743.4,444.9 743.2,439.2 743.0,442.5 741.8,442.5 740.7,442.9 739.5,441.6 738.3,442.7 737.1,445.7 736.0,448.7 734.8,447.6 733.6,449.2 732.5,447.5 731.3,453.2 729.6,452.2 727.9,451.4 726.2,448.7 724.6,453.0 722.9,451.1 721.2,449.1 719.5,453.2 718.0,449.9 716.6,454.0 715.1,454.5 713.6,454.9 712.2,451.1 710.7,456.2 710.4,453.4 710.2,449.4 709.9,447.1 709.6,448.3 709.3,447.1 709.1,442.2 708.8,445.4 707.3,442.8 705.9,445.1 704.4,443.3 702.9,445.8 701.5,446.5 700.0,448.4 697.9,448.8 695.8,449.3 694.8,444.4 693.8,442.4 692.9,442.7 691.9,439.9 690.9,443.5 690.1,444.7 689.3,444.9 688.5,445.0 687.6,443.9 686.8,445.2 686.0,451.3 684.8,448.1 683.5,447.6 682.3,445.5 681.1,446.4 680.1,445.2 679.2,444.4 678.2,449.4 677.2,447.6 676.3,449.2 675.3,454.2 674.2,448.8 673.1,447.8 672.0,447.4 670.8,447.5 669.7,446.3 668.6,444.8 667.5,445.4 666.4,442.6 665.2,447.3 664.0,447.9 662.9,446.2 661.8,449.9 660.6,452.3 659.8,450.6 658.9,449.3 658.1,445.3 657.3,445.1 656.5,440.4 655.6,439.5 654.8,442.5 653.5,438.5 652.2,443.1 650.9,445.0 649.6,446.0 648.3,444.9 647.0,448.4 646.0,446.0 645.0,448.5 644.1,450.7 643.1,451.0 642.1,454.2 640.5,451.1 638.8,450.8 637.2,454.2 636.4,448.9 635.6,446.8 634.9,446.2 634.1,447.4 633.3,446.4 632.5,440.7 631.7,442.0 630.8,439.2 630.0,438.7 629.2,435.4 628.4,437.6 627.0,437.6 625.7,438.3 624.3,439.3 623.0,440.8 621.6,442.5 620.6,439.3 619.7,442.1 618.7,444.5 617.7,447.4 617.1,443.9 616.6,439.4 616.0,440.2 615.5,440.1 614.9,435.6 614.4,434.9 613.8,436.6 613.3,430.1 612.8,432.9 612.3,429.5 611.8,426.2 611.3,424.5 610.8,422.5 610.3,425.3 609.8,423.9 608.5,423.4 607.2,425.3 605.9,426.9 604.3,425.8 602.8,421.6 601.2,423.4 599.7,421.4 598.1,425.9 597.0,425.2 595.8,423.8 594.7,427.1 593.6,429.1 592.4,427.7 591.3,432.7 590.3,426.5 589.3,429.3 588.4,425.4 587.4,426.9 586.7,422.4 586.0,423.0 585.3,420.9 584.6,420.6 583.9,418.9 583.2,417.2 582.5,417.1 580.5,414.1 578.6,413.8 576.6,417.1 575.5,417.2 574.4,419.3 573.3,418.8 572.1,418.2 571.0,421.7 569.9,422.2 568.8,424.9 567.2,424.4 565.5,421.9 563.9,423.7 562.3,426.6 560.6,426.9 559.0,427.9 558.2,424.5 557.5,422.4 556.7,420.6 556.0,421.9 555.2,421.0 554.4,421.7 553.6,420.6 552.9,423.6 552.1,425.8 551.3,428.8 549.8,428.0 548.3,425.5 546.9,429.5 545.4,431.8 544.6,430.3 543.8,432.6 543.0,433.6 542.1,432.7 541.3,433.3 540.5,439.6 540.1,436.3 539.8,435.6 539.4,431.4 539.0,432.5 538.7,431.9 538.3,425.9 537.9,426.8 537.5,423.3 537.2,423.8 536.8,419.9 536.4,420.5 536.1,420.5 535.7,419.7 535.3,415.5 535.0,413.5 534.6,415.2"/></clipPath></defs>
<g class="ax">
<path d="M507.7 468.3L592 421.7M830.3 415.1L936.3 433"/>
</g>
<g clip-path="url(#wfc)">
<rect x="520" y="290" width="420" height="210" fill="#e3f0f5"/>
<g filter="url(#bv)">
<polygon points="520.0,349.9 521.6,340.0 523.2,345.5 524.8,342.7 526.4,346.8 528.0,342.6 529.6,344.4 531.2,347.3 532.8,349.2 534.4,342.4 536.0,345.9 537.6,351.3 539.2,353.2 540.8,345.2 542.4,341.2 544.0,353.6 545.6,354.2 547.2,349.1 548.8,341.1 550.4,351.3 552.0,345.1 553.6,350.6 555.2,350.9 556.8,353.1 558.4,345.3 560.0,353.0 561.6,346.3 563.2,347.2 564.8,351.6 566.4,351.6 568.0,347.4 569.6,345.9 571.2,348.6 572.8,350.5 574.4,347.7 576.0,346.0 577.6,347.8 579.2,355.0 580.8,355.8 582.4,346.4 584.0,355.0 585.6,355.5 587.2,349.3 588.8,357.4 590.4,347.4 592.0,354.5 593.6,354.3 595.2,356.7 596.8,351.7 598.4,354.7 600.0,356.1 601.6,352.8 603.2,357.8 604.8,352.1 606.4,354.7 608.0,347.4 609.6,353.0 611.2,352.2 612.8,351.4 614.4,357.9 616.0,354.0 617.6,352.2 619.2,348.9 620.8,353.1 622.4,346.4 624.0,347.7 625.6,350.2 627.2,348.2 628.8,349.6 630.4,352.8 632.0,344.8 633.6,350.9 635.2,346.5 636.8,352.7 638.4,351.4 640.0,350.3 641.6,342.9 643.2,350.4 644.8,348.5 646.4,355.5 648.0,346.3 649.6,353.5 651.2,355.6 652.8,353.1 654.4,356.4 656.0,346.7 657.6,359.0 659.2,350.6 660.8,356.8 662.4,357.0 664.0,351.7 665.6,357.5 667.2,359.3 668.8,352.5 670.4,353.8 672.0,359.9 673.6,354.3 675.2,364.0 676.8,357.9 678.4,364.2 680.0,356.3 681.6,360.9 683.2,365.6 684.8,361.2 686.4,361.8 688.0,365.5 689.6,361.9 691.2,360.6 692.8,364.3 694.4,364.0 696.0,371.5 697.6,370.7 699.2,375.5 700.8,365.3 702.4,371.9 704.0,365.0 705.6,371.2 707.2,372.9 708.8,367.1 710.4,372.7 712.0,369.6 713.6,370.2 715.2,374.3 716.8,364.3 718.4,374.7 720.0,370.2 721.6,370.7 723.2,374.2 724.8,365.8 726.4,377.2 728.0,369.3 729.6,368.0 731.2,375.0 732.8,371.0 734.4,368.1 736.0,373.3 737.6,365.0 739.2,375.5 740.8,367.4 742.4,372.3 744.0,377.0 745.6,371.5 747.2,374.0 748.8,372.0 750.4,368.4 752.0,368.2 753.6,370.3 755.2,375.0 756.8,371.9 758.4,374.9 760.0,378.6 761.6,372.2 763.2,374.6 764.8,378.0 766.4,372.3 768.0,373.4 769.6,376.7 771.2,373.8 772.8,379.2 774.4,379.0 776.0,383.2 777.6,383.7 779.2,380.7 780.8,385.3 782.4,384.1 784.0,380.3 785.6,389.2 787.2,383.5 788.8,381.0 790.4,382.4 792.0,390.7 793.6,393.9 795.2,393.4 796.8,388.5 798.4,388.6 800.0,386.8 801.6,395.3 803.2,394.4 804.8,393.9 806.4,398.7 808.0,394.0 809.6,401.8 811.2,400.5 812.8,394.1 814.4,402.2 816.0,394.7 817.6,396.0 819.2,396.3 820.8,392.6 822.4,392.8 824.0,401.0 825.6,390.6 827.2,394.5 828.8,400.4 830.4,391.1 832.0,392.2 833.6,395.5 835.2,394.6 836.8,396.5 838.4,396.9 840.0,389.1 841.6,391.9 843.2,388.0 844.8,386.4 846.4,393.7 848.0,393.2 849.6,389.1 851.2,383.9 852.8,389.8 854.4,386.7 856.0,383.7 857.6,386.5 859.2,380.9 860.8,379.3 862.4,377.1 864.0,378.8 865.6,374.5 867.2,376.7 868.8,380.2 870.4,381.1 872.0,383.6 873.6,380.4 875.2,374.3 876.8,379.8 878.4,376.9 880.0,380.0 881.6,376.8 883.2,376.5 884.8,380.8 886.4,383.7 888.0,374.8 889.6,382.4 891.2,371.6 892.8,377.2 894.4,374.5 896.0,381.2 897.6,384.2 899.2,382.0 900.8,376.0 902.4,381.4 904.0,376.3 905.6,373.6 907.2,383.8 908.8,378.9 910.4,381.5 912.0,378.9 913.6,382.8 915.2,376.7 916.8,381.4 918.4,378.9 920.0,379.9 921.6,378.2 923.2,379.6 924.8,377.8 926.4,375.1 928.0,374.7 929.6,379.1 931.2,373.9 932.8,383.2 934.4,373.5 936.0,374.5 937.6,375.1 939.2,380.9 945.0,520.0 520.0,520.0" fill="rgb(226, 241, 246)"/>
<polygon points="520.0,358.3 521.6,349.6 523.2,355.0 524.8,349.6 526.4,353.8 528.0,349.1 529.6,348.1 531.2,350.9 532.8,359.2 534.4,349.2 536.0,351.9 537.6,354.9 539.2,357.0 540.8,349.0 542.4,350.5 544.0,357.9 545.6,357.7 547.2,355.4 548.8,350.4 550.4,357.6 552.0,354.7 553.6,359.4 555.2,357.1 556.8,359.0 558.4,352.8 560.0,359.4 561.6,353.6 563.2,353.3 564.8,360.4 566.4,359.8 568.0,353.8 569.6,353.3 571.2,357.3 572.8,357.5 574.4,355.2 576.0,352.4 577.6,353.7 579.2,360.6 580.8,361.0 582.4,353.5 584.0,358.2 585.6,362.0 587.2,354.3 588.8,363.6 590.4,357.2 592.0,359.3 593.6,362.4 595.2,362.0 596.8,359.1 598.4,361.0 600.0,363.7 601.6,359.9 603.2,362.5 604.8,362.1 606.4,358.2 608.0,355.7 609.6,362.0 611.2,358.0 612.8,357.3 614.4,363.2 616.0,364.1 617.6,358.0 619.2,357.3 620.8,358.4 622.4,354.1 624.0,355.8 625.6,355.4 627.2,354.2 628.8,357.5 630.4,356.9 632.0,353.6 633.6,358.0 635.2,352.1 636.8,359.2 638.4,360.5 640.0,355.1 641.6,350.8 643.2,355.4 644.8,354.4 646.4,362.1 648.0,351.4 649.6,361.9 651.2,362.1 652.8,360.0 654.4,360.4 656.0,354.9 657.6,365.8 659.2,359.5 660.8,365.6 662.4,363.7 664.0,355.8 665.6,363.1 667.2,366.6 668.8,358.0 670.4,362.4 672.0,364.6 673.6,361.5 675.2,371.0 676.8,363.6 678.4,368.3 680.0,362.6 681.6,366.1 683.2,372.2 684.8,368.0 686.4,368.1 688.0,371.7 689.6,370.9 691.2,369.0 692.8,370.1 694.4,370.7 696.0,379.9 697.6,378.1 699.2,380.8 700.8,373.6 702.4,378.5 704.0,372.9 705.6,376.6 707.2,379.0 708.8,373.3 710.4,379.3 712.0,375.2 713.6,378.4 715.2,382.3 716.8,372.7 718.4,381.4 720.0,379.2 721.6,376.5 723.2,380.0 724.8,372.9 726.4,381.1 728.0,377.0 729.6,374.2 731.2,379.3 732.8,376.8 734.4,375.3 736.0,378.3 737.6,372.9 739.2,379.6 740.8,373.9 742.4,381.1 744.0,384.2 745.6,381.5 747.2,380.7 748.8,375.3 750.4,373.7 752.0,375.1 753.6,378.0 755.2,383.5 756.8,379.7 758.4,380.6 760.0,383.8 761.6,378.3 763.2,378.2 764.8,383.3 766.4,376.5 768.0,376.9 769.6,384.2 771.2,379.9 772.8,386.7 774.4,382.3 776.0,390.1 777.6,387.8 779.2,383.8 780.8,391.9 782.4,389.0 784.0,387.9 785.6,395.2 787.2,387.7 788.8,390.2 790.4,390.1 792.0,397.5 793.6,400.4 795.2,397.7 796.8,396.5 798.4,396.2 800.0,393.3 801.6,403.0 803.2,400.2 804.8,401.6 806.4,404.4 808.0,399.8 809.6,405.7 811.2,406.5 812.8,402.3 814.4,407.0 816.0,398.5 817.6,405.2 819.2,401.3 820.8,401.9 822.4,398.1 824.0,404.0 825.6,396.5 827.2,402.9 828.8,406.3 830.4,398.2 832.0,396.3 833.6,403.1 835.2,400.0 836.8,402.2 838.4,403.8 840.0,395.6 841.6,396.1 843.2,396.8 844.8,393.9 846.4,401.7 848.0,398.9 849.6,396.2 851.2,386.7 852.8,398.8 854.4,395.8 856.0,392.4 857.6,392.7 859.2,389.8 860.8,388.0 862.4,385.3 864.0,384.9 865.6,380.8 867.2,383.8 868.8,389.4 870.4,386.1 872.0,389.0 873.6,387.2 875.2,383.5 876.8,386.3 878.4,382.9 880.0,385.7 881.6,383.8 883.2,381.6 884.8,386.4 886.4,390.9 888.0,382.9 889.6,386.8 891.2,380.5 892.8,383.1 894.4,383.0 896.0,387.4 897.6,388.5 899.2,388.6 900.8,383.8 902.4,389.4 904.0,384.2 905.6,381.0 907.2,387.3 908.8,386.1 910.4,387.8 912.0,385.1 913.6,390.7 915.2,385.9 916.8,387.1 918.4,387.1 920.0,389.1 921.6,383.6 923.2,385.8 924.8,384.3 926.4,383.4 928.0,382.5 929.6,385.7 931.2,378.2 932.8,390.2 934.4,381.6 936.0,378.2 937.6,380.5 939.2,390.8 945.0,520.0 520.0,520.0" fill="rgb(220, 238, 245)"/>
<polygon points="520.0,365.0 521.6,354.5 523.2,360.2 524.8,357.9 526.4,357.7 528.0,353.8 529.6,355.3 531.2,360.1 532.8,363.3 534.4,355.3 536.0,359.0 537.6,363.0 539.2,363.5 540.8,354.7 542.4,357.9 544.0,364.5 545.6,363.9 547.2,360.8 548.8,356.8 550.4,364.0 552.0,360.0 553.6,364.8 555.2,362.5 556.8,362.9 558.4,355.8 560.0,366.6 561.6,360.2 563.2,360.9 564.8,366.4 566.4,365.2 568.0,360.5 569.6,359.7 571.2,364.0 572.8,364.9 574.4,363.8 576.0,361.8 577.6,360.6 579.2,365.2 580.8,368.0 582.4,358.8 584.0,364.4 585.6,366.7 587.2,361.0 588.8,371.4 590.4,362.0 592.0,369.5 593.6,369.1 595.2,366.8 596.8,365.7 598.4,366.4 600.0,367.3 601.6,368.7 603.2,368.3 604.8,367.0 606.4,367.0 608.0,363.5 609.6,368.6 611.2,365.9 612.8,363.1 614.4,367.6 616.0,370.8 617.6,367.1 619.2,360.7 620.8,363.0 622.4,359.7 624.0,360.1 625.6,365.4 627.2,361.4 628.8,364.8 630.4,362.2 632.0,359.8 633.6,365.8 635.2,359.2 636.8,367.5 638.4,364.1 640.0,361.3 641.6,358.5 643.2,364.0 644.8,361.3 646.4,366.4 648.0,359.1 649.6,368.1 651.2,367.4 652.8,365.7 654.4,366.8 656.0,359.8 657.6,370.3 659.2,364.1 660.8,369.9 662.4,369.4 664.0,363.7 665.6,368.4 667.2,373.6 668.8,362.7 670.4,365.9 672.0,374.7 673.6,366.0 675.2,377.7 676.8,371.3 678.4,378.1 680.0,368.4 681.6,374.3 683.2,378.3 684.8,374.5 686.4,375.5 688.0,378.0 689.6,376.0 691.2,373.2 692.8,377.4 694.4,376.6 696.0,386.4 697.6,382.4 699.2,385.8 700.8,377.5 702.4,386.9 704.0,378.9 705.6,381.9 707.2,385.9 708.8,380.5 710.4,386.7 712.0,382.2 713.6,382.9 715.2,388.5 716.8,377.9 718.4,387.0 720.0,384.3 721.6,381.1 723.2,387.8 724.8,378.8 726.4,390.3 728.0,382.0 729.6,383.0 731.2,386.7 732.8,381.6 734.4,380.0 736.0,385.7 737.6,378.2 739.2,386.7 740.8,381.3 742.4,388.3 744.0,392.4 745.6,388.0 747.2,385.8 748.8,382.9 750.4,382.2 752.0,379.4 753.6,383.6 755.2,387.3 756.8,388.2 758.4,385.5 760.0,393.1 761.6,383.5 763.2,384.4 764.8,389.2 766.4,386.3 768.0,385.5 769.6,388.7 771.2,387.6 772.8,392.9 774.4,389.3 776.0,395.4 777.6,394.3 779.2,390.9 780.8,398.6 782.4,397.4 784.0,392.2 785.6,401.2 787.2,394.3 788.8,396.0 790.4,395.7 792.0,401.6 793.6,404.8 795.2,406.3 796.8,403.3 798.4,403.1 800.0,400.2 801.6,406.5 803.2,405.9 804.8,407.1 806.4,409.6 808.0,409.1 809.6,412.4 811.2,413.6 812.8,406.9 814.4,416.6 816.0,407.2 817.6,410.7 819.2,407.1 820.8,408.5 822.4,404.5 824.0,413.7 825.6,402.5 827.2,407.8 828.8,414.4 830.4,403.4 832.0,402.9 833.6,407.9 835.2,407.4 836.8,406.2 838.4,409.8 840.0,402.1 841.6,403.1 843.2,400.6 844.8,399.4 846.4,408.3 848.0,406.5 849.6,402.8 851.2,395.8 852.8,402.9 854.4,402.4 856.0,395.8 857.6,401.3 859.2,397.6 860.8,392.5 862.4,390.5 864.0,391.1 865.6,388.2 867.2,388.6 868.8,396.2 870.4,392.0 872.0,393.5 873.6,391.7 875.2,387.4 876.8,392.8 878.4,388.4 880.0,392.5 881.6,392.0 883.2,387.1 884.8,390.6 886.4,396.5 888.0,388.1 889.6,395.2 891.2,386.4 892.8,386.7 894.4,389.5 896.0,394.5 897.6,394.0 899.2,392.1 900.8,389.0 902.4,395.1 904.0,388.2 905.6,386.6 907.2,395.0 908.8,390.9 910.4,393.4 912.0,394.2 913.6,394.8 915.2,390.9 916.8,395.7 918.4,391.8 920.0,396.2 921.6,392.0 923.2,393.0 924.8,391.4 926.4,390.2 928.0,387.9 929.6,391.9 931.2,388.1 932.8,396.6 934.4,386.4 936.0,384.7 937.6,386.0 939.2,395.4 945.0,520.0 520.0,520.0" fill="rgb(213, 235, 244)"/>
<polygon points="520.0,371.8 521.6,362.1 523.2,368.4 524.8,365.3 526.4,366.9 528.0,359.7 529.6,363.1 531.2,367.6 532.8,372.1 534.4,360.5 536.0,365.5 537.6,370.0 539.2,370.8 540.8,363.1 542.4,360.7 544.0,371.2 545.6,372.0 547.2,364.8 548.8,360.7 550.4,373.7 552.0,367.2 553.6,373.7 555.2,369.5 556.8,372.5 558.4,365.7 560.0,372.7 561.6,363.3 563.2,368.0 564.8,371.7 566.4,373.4 568.0,364.9 569.6,366.6 571.2,370.4 572.8,370.7 574.4,368.0 576.0,366.5 577.6,367.8 579.2,375.4 580.8,374.9 582.4,365.8 584.0,373.1 585.6,373.4 587.2,367.7 588.8,378.2 590.4,368.7 592.0,373.3 593.6,373.8 595.2,375.2 596.8,370.4 598.4,371.8 600.0,373.8 601.6,372.6 603.2,375.4 604.8,372.3 606.4,371.9 608.0,366.5 609.6,374.6 611.2,374.2 612.8,370.2 614.4,375.7 616.0,376.0 617.6,370.4 619.2,369.2 620.8,371.2 622.4,367.3 624.0,367.6 625.6,370.1 627.2,365.5 628.8,368.9 630.4,369.4 632.0,365.1 633.6,371.0 635.2,365.5 636.8,370.1 638.4,371.8 640.0,370.7 641.6,362.9 643.2,368.9 644.8,367.1 646.4,372.9 648.0,367.1 649.6,372.7 651.2,376.5 652.8,371.5 654.4,372.5 656.0,369.3 657.6,376.6 659.2,370.1 660.8,376.9 662.4,377.1 664.0,370.4 665.6,375.3 667.2,378.1 668.8,372.2 670.4,375.2 672.0,378.0 673.6,372.9 675.2,381.8 676.8,377.0 678.4,383.5 680.0,377.7 681.6,382.3 683.2,386.4 684.8,380.2 686.4,381.6 688.0,385.0 689.6,382.6 691.2,381.4 692.8,383.5 694.4,384.8 696.0,390.9 697.6,391.8 699.2,391.4 700.8,386.8 702.4,392.9 704.0,385.2 705.6,391.6 707.2,391.2 708.8,387.5 710.4,394.6 712.0,391.5 713.6,390.7 715.2,393.1 716.8,384.9 718.4,394.7 720.0,391.7 721.6,387.4 723.2,392.2 724.8,387.0 726.4,394.3 728.0,389.6 729.6,389.0 731.2,393.9 732.8,389.2 734.4,386.3 736.0,391.7 737.6,384.8 739.2,392.9 740.8,388.7 742.4,393.2 744.0,395.2 745.6,394.4 747.2,393.1 748.8,391.6 750.4,388.4 752.0,389.5 753.6,388.0 755.2,394.3 756.8,394.4 758.4,391.9 760.0,396.6 761.6,390.9 763.2,392.3 764.8,399.4 766.4,392.5 768.0,392.0 769.6,398.4 771.2,394.4 772.8,397.8 774.4,397.7 776.0,401.1 777.6,401.7 779.2,399.1 780.8,403.4 782.4,404.8 784.0,400.6 785.6,409.5 787.2,400.8 788.8,401.6 790.4,401.8 792.0,409.2 793.6,412.7 795.2,413.8 796.8,410.8 798.4,408.2 800.0,406.1 801.6,414.7 803.2,416.1 804.8,412.0 806.4,416.6 808.0,416.0 809.6,419.3 811.2,418.1 812.8,415.9 814.4,423.0 816.0,412.2 817.6,415.7 819.2,417.1 820.8,414.1 822.4,412.4 824.0,420.6 825.6,411.5 827.2,415.2 828.8,418.1 830.4,409.6 832.0,410.8 833.6,414.9 835.2,412.2 836.8,413.3 838.4,416.7 840.0,409.2 841.6,408.9 843.2,410.6 844.8,405.6 846.4,411.7 848.0,411.2 849.6,411.1 851.2,400.6 852.8,410.6 854.4,405.9 856.0,403.2 857.6,407.6 859.2,402.6 860.8,399.7 862.4,395.7 864.0,397.5 865.6,394.8 867.2,396.1 868.8,401.3 870.4,399.7 872.0,403.2 873.6,400.0 875.2,394.5 876.8,396.5 878.4,395.3 880.0,401.6 881.6,396.1 883.2,393.2 884.8,397.7 886.4,402.6 888.0,395.6 889.6,402.0 891.2,393.3 892.8,393.0 894.4,392.6 896.0,401.2 897.6,401.6 899.2,401.0 900.8,394.9 902.4,400.3 904.0,394.6 905.6,392.9 907.2,403.5 908.8,399.2 910.4,398.9 912.0,399.0 913.6,402.2 915.2,395.3 916.8,402.7 918.4,399.9 920.0,403.2 921.6,396.5 923.2,400.4 924.8,397.2 926.4,393.5 928.0,396.0 929.6,400.2 931.2,392.0 932.8,403.5 934.4,394.8 936.0,391.4 937.6,393.5 939.2,404.0 945.0,520.0 520.0,520.0" fill="rgb(207, 232, 242)"/>
<polygon points="520.0,376.7 521.6,369.5 523.2,372.6 524.8,370.4 526.4,373.2 528.0,367.2 529.6,369.1 531.2,374.1 532.8,377.1 534.4,369.4 536.0,371.6 537.6,374.8 539.2,377.5 540.8,368.5 542.4,370.9 544.0,377.3 545.6,378.9 547.2,371.8 548.8,368.9 550.4,378.0 552.0,372.2 553.6,376.7 555.2,373.9 556.8,379.1 558.4,370.0 560.0,376.6 561.6,370.4 563.2,373.0 564.8,377.9 566.4,377.1 568.0,372.7 569.6,372.0 571.2,373.5 572.8,377.2 574.4,373.5 576.0,371.5 577.6,375.3 579.2,378.0 580.8,381.3 582.4,373.7 584.0,379.5 585.6,379.3 587.2,372.4 588.8,382.9 590.4,373.8 592.0,381.6 593.6,378.3 595.2,382.3 596.8,377.2 598.4,377.6 600.0,380.5 601.6,377.3 603.2,382.0 604.8,377.7 606.4,380.0 608.0,374.0 609.6,379.5 611.2,377.4 612.8,375.9 614.4,379.9 616.0,382.5 617.6,375.8 619.2,374.2 620.8,377.3 622.4,372.0 624.0,374.1 625.6,375.7 627.2,372.9 628.8,376.2 630.4,375.8 632.0,370.7 633.6,375.9 635.2,370.0 636.8,379.7 638.4,377.9 640.0,376.1 641.6,368.7 643.2,375.2 644.8,372.8 646.4,379.9 648.0,370.5 649.6,377.8 651.2,380.6 652.8,377.6 654.4,378.4 656.0,374.4 657.6,381.7 659.2,377.3 660.8,384.8 662.4,384.3 664.0,376.9 665.6,384.2 667.2,383.6 668.8,375.3 670.4,378.2 672.0,386.0 673.6,380.0 675.2,387.6 676.8,381.7 678.4,389.4 680.0,382.8 681.6,385.7 683.2,393.4 684.8,384.3 686.4,386.7 688.0,388.3 689.6,386.7 691.2,387.5 692.8,389.1 694.4,389.5 696.0,396.0 697.6,393.9 699.2,397.5 700.8,390.0 702.4,397.2 704.0,390.1 705.6,393.3 707.2,395.6 708.8,393.8 710.4,397.6 712.0,396.8 713.6,396.0 715.2,399.9 716.8,389.5 718.4,400.0 720.0,397.0 721.6,393.1 723.2,396.1 724.8,393.6 726.4,401.3 728.0,394.8 729.6,391.5 731.2,399.4 732.8,395.1 734.4,390.2 736.0,397.6 737.6,389.7 739.2,401.2 740.8,392.9 742.4,400.2 744.0,403.6 745.6,396.9 747.2,400.5 748.8,395.7 750.4,394.0 752.0,394.9 753.6,394.3 755.2,399.0 756.8,400.7 758.4,399.7 760.0,406.3 761.6,397.6 763.2,399.5 764.8,405.3 766.4,398.2 768.0,398.0 769.6,401.0 771.2,401.5 772.8,403.9 774.4,403.4 776.0,409.7 777.6,407.3 779.2,406.3 780.8,408.7 782.4,410.4 784.0,407.8 785.6,415.1 787.2,409.3 788.8,410.6 790.4,409.5 792.0,415.9 793.6,418.1 795.2,417.2 796.8,415.1 798.4,414.6 800.0,411.9 801.6,420.1 803.2,419.3 804.8,420.1 806.4,423.9 808.0,420.5 809.6,426.6 811.2,426.0 812.8,420.6 814.4,429.5 816.0,417.1 817.6,421.4 819.2,421.8 820.8,416.6 822.4,415.9 824.0,422.5 825.6,415.5 827.2,420.0 828.8,424.7 830.4,413.1 832.0,415.3 833.6,419.1 835.2,417.1 836.8,419.3 838.4,421.1 840.0,410.8 841.6,412.2 843.2,411.7 844.8,407.5 846.4,415.5 848.0,414.4 849.6,412.6 851.2,406.1 852.8,413.6 854.4,410.4 856.0,407.5 857.6,410.3 859.2,406.0 860.8,402.0 862.4,399.6 864.0,400.0 865.6,401.0 867.2,402.6 868.8,403.8 870.4,405.1 872.0,407.8 873.6,404.7 875.2,398.0 876.8,402.7 878.4,401.2 880.0,404.0 881.6,402.5 883.2,397.6 884.8,405.4 886.4,407.8 888.0,399.5 889.6,408.0 891.2,397.4 892.8,398.5 894.4,398.2 896.0,403.4 897.6,405.1 899.2,405.9 900.8,401.6 902.4,405.5 904.0,399.0 905.6,399.8 907.2,408.0 908.8,405.3 910.4,402.9 912.0,405.1 913.6,408.7 915.2,402.8 916.8,405.2 918.4,403.0 920.0,407.4 921.6,400.7 923.2,404.1 924.8,403.1 926.4,399.5 928.0,400.3 929.6,402.4 931.2,395.6 932.8,406.9 934.4,398.7 936.0,398.2 937.6,398.6 939.2,408.5 945.0,520.0 520.0,520.0" fill="rgb(198, 228, 240)"/>
<polygon points="520.0,385.6 521.6,374.8 523.2,380.6 524.8,376.5 526.4,378.5 528.0,375.7 529.6,375.2 531.2,380.3 532.8,382.8 534.4,375.0 536.0,381.4 537.6,381.4 539.2,383.1 540.8,376.3 542.4,374.6 544.0,385.8 545.6,383.4 547.2,381.4 548.8,376.8 550.4,386.2 552.0,378.9 553.6,384.1 555.2,382.6 556.8,384.4 558.4,376.8 560.0,383.4 561.6,377.7 563.2,380.8 564.8,386.4 566.4,386.7 568.0,376.8 569.6,377.8 571.2,380.5 572.8,382.4 574.4,380.2 576.0,376.9 577.6,378.0 579.2,384.3 580.8,386.9 582.4,379.6 584.0,385.3 585.6,387.4 587.2,380.0 588.8,388.9 590.4,379.8 592.0,386.0 593.6,382.5 595.2,386.0 596.8,382.3 598.4,382.5 600.0,385.5 601.6,385.2 603.2,385.7 604.8,384.0 606.4,382.4 608.0,377.9 609.6,386.5 611.2,381.5 612.8,379.2 614.4,386.9 616.0,386.0 617.6,380.9 619.2,380.1 620.8,382.0 622.4,378.7 624.0,378.2 625.6,381.8 627.2,378.1 628.8,381.2 630.4,380.7 632.0,375.7 633.6,385.0 635.2,377.4 636.8,382.7 638.4,386.1 640.0,380.6 641.6,374.8 643.2,381.3 644.8,378.6 646.4,385.9 648.0,377.4 649.6,384.1 651.2,387.2 652.8,382.6 654.4,385.2 656.0,379.0 657.6,386.2 659.2,382.6 660.8,386.9 662.4,388.4 664.0,382.3 665.6,388.5 667.2,391.4 668.8,382.7 670.4,383.9 672.0,392.6 673.6,385.6 675.2,391.9 676.8,388.6 678.4,393.5 680.0,385.9 681.6,393.7 683.2,397.3 684.8,391.0 686.4,389.8 688.0,395.7 689.6,391.4 691.2,389.7 692.8,392.5 694.4,391.5 696.0,403.0 697.6,399.4 699.2,402.7 700.8,396.7 702.4,402.4 704.0,396.8 705.6,400.4 707.2,402.5 708.8,398.2 710.4,405.3 712.0,401.6 713.6,399.1 715.2,404.7 716.8,394.5 718.4,406.0 720.0,401.7 721.6,399.7 723.2,401.3 724.8,396.4 726.4,405.9 728.0,402.2 729.6,398.9 731.2,400.9 732.8,399.9 734.4,395.3 736.0,403.7 737.6,397.5 739.2,403.5 740.8,400.9 742.4,404.5 744.0,407.0 745.6,402.7 747.2,404.9 748.8,403.0 750.4,398.9 752.0,397.7 753.6,399.0 755.2,404.8 756.8,405.9 758.4,404.7 760.0,410.7 761.6,402.0 763.2,405.4 764.8,409.6 766.4,402.4 768.0,405.9 769.6,409.2 771.2,407.8 772.8,411.7 774.4,411.6 776.0,412.5 777.6,414.7 779.2,410.4 780.8,417.2 782.4,417.8 784.0,414.5 785.6,421.0 787.2,414.7 788.8,416.9 790.4,416.5 792.0,422.2 793.6,425.9 795.2,424.5 796.8,423.9 798.4,421.4 800.0,421.4 801.6,428.1 803.2,425.9 804.8,425.4 806.4,429.0 808.0,430.3 809.6,435.3 811.2,431.6 812.8,426.5 814.4,433.1 816.0,422.4 817.6,426.4 819.2,423.4 820.8,420.8 822.4,416.9 824.0,426.5 825.6,416.5 827.2,420.6 828.8,426.1 830.4,418.8 832.0,415.1 833.6,419.4 835.2,419.9 836.8,419.2 838.4,420.5 840.0,413.8 841.6,413.7 843.2,414.2 844.8,410.6 846.4,421.0 848.0,419.3 849.6,414.1 851.2,407.8 852.8,417.2 854.4,415.9 856.0,411.8 857.6,413.7 859.2,409.9 860.8,405.7 862.4,403.4 864.0,406.2 865.6,403.8 867.2,406.7 868.8,409.6 870.4,407.0 872.0,410.5 873.6,408.9 875.2,403.1 876.8,406.8 878.4,404.3 880.0,409.0 881.6,405.5 883.2,401.3 884.8,406.6 886.4,410.1 888.0,404.5 889.6,409.8 891.2,399.8 892.8,402.0 894.4,401.7 896.0,407.7 897.6,409.1 899.2,406.4 900.8,405.2 902.4,409.6 904.0,403.5 905.6,403.1 907.2,409.3 908.8,405.8 910.4,406.0 912.0,406.7 913.6,410.2 915.2,406.2 916.8,409.6 918.4,409.6 920.0,408.9 921.6,406.6 923.2,408.5 924.8,404.7 926.4,402.2 928.0,402.8 929.6,408.9 931.2,400.4 932.8,411.3 934.4,401.5 936.0,401.9 937.6,399.6 939.2,410.3 945.0,520.0 520.0,520.0" fill="rgb(188, 222, 238)"/>
<polygon points="520.0,392.5 521.6,380.9 523.2,386.7 524.8,383.0 526.4,385.1 528.0,381.5 529.6,384.8 531.2,385.5 532.8,390.7 534.4,381.0 536.0,386.9 537.6,391.4 539.2,392.4 540.8,382.2 542.4,383.6 544.0,393.5 545.6,392.5 547.2,385.1 548.8,383.3 550.4,393.2 552.0,385.2 553.6,390.1 555.2,387.3 556.8,391.0 558.4,385.1 560.0,391.1 561.6,386.0 563.2,385.3 564.8,390.6 566.4,392.2 568.0,384.8 569.6,384.2 571.2,387.4 572.8,387.4 574.4,384.8 576.0,383.5 577.6,383.4 579.2,391.0 580.8,391.8 582.4,383.1 584.0,389.3 585.6,390.2 587.2,383.1 588.8,390.2 590.4,386.0 592.0,389.9 593.6,391.1 595.2,388.3 596.8,387.1 598.4,388.8 600.0,389.1 601.6,386.4 603.2,389.1 604.8,386.7 606.4,389.0 608.0,381.7 609.6,391.1 611.2,388.1 612.8,385.7 614.4,391.7 616.0,391.7 617.6,388.5 619.2,385.1 620.8,387.2 622.4,384.8 624.0,383.0 625.6,388.1 627.2,384.6 628.8,388.4 630.4,387.2 632.0,383.9 633.6,391.2 635.2,383.0 636.8,389.4 638.4,390.8 640.0,389.5 641.6,381.0 643.2,385.3 644.8,385.6 646.4,392.6 648.0,384.1 649.6,390.4 651.2,394.4 652.8,388.4 654.4,391.4 656.0,382.2 657.6,391.2 659.2,386.8 660.8,392.2 662.4,394.0 664.0,386.5 665.6,392.5 667.2,397.7 668.8,386.5 670.4,389.5 672.0,394.7 673.6,391.0 675.2,400.5 676.8,391.2 678.4,397.3 680.0,393.5 681.6,395.9 683.2,404.1 684.8,395.0 686.4,396.8 688.0,398.9 689.6,399.3 691.2,395.5 692.8,397.2 694.4,399.9 696.0,405.9 697.6,406.2 699.2,406.5 700.8,401.2 702.4,407.0 704.0,401.5 705.6,402.8 707.2,406.0 708.8,402.3 710.4,410.0 712.0,406.6 713.6,405.6 715.2,407.3 716.8,398.9 718.4,408.7 720.0,405.4 721.6,402.0 723.2,406.3 724.8,402.7 726.4,410.2 728.0,404.3 729.6,404.7 731.2,406.3 732.8,404.6 734.4,400.5 736.0,409.9 737.6,402.7 739.2,409.2 740.8,405.4 742.4,410.3 744.0,412.4 745.6,408.6 747.2,410.5 748.8,408.7 750.4,402.8 752.0,405.6 753.6,407.0 755.2,412.0 756.8,410.9 758.4,413.4 760.0,415.3 761.6,410.4 763.2,410.1 764.8,417.3 766.4,411.5 768.0,409.3 769.6,416.7 771.2,415.3 772.8,416.1 774.4,414.3 776.0,419.4 777.6,423.7 779.2,416.4 780.8,425.4 782.4,421.5 784.0,420.9 785.6,428.0 787.2,421.4 788.8,423.3 790.4,421.1 792.0,428.9 793.6,434.6 795.2,433.6 796.8,430.9 798.4,430.6 800.0,424.8 801.6,433.4 803.2,435.5 804.8,433.6 806.4,435.2 808.0,435.8 809.6,441.2 811.2,440.7 812.8,433.3 814.4,437.6 816.0,429.4 817.6,429.3 819.2,429.0 820.8,423.3 822.4,422.1 824.0,427.9 825.6,419.9 827.2,424.0 828.8,429.6 830.4,417.9 832.0,420.2 833.6,423.0 835.2,419.6 836.8,421.3 838.4,423.0 840.0,416.9 841.6,415.6 843.2,414.5 844.8,414.2 846.4,422.6 848.0,420.3 849.6,417.2 851.2,408.5 852.8,417.6 854.4,415.2 856.0,411.5 857.6,415.9 859.2,411.8 860.8,409.3 862.4,406.7 864.0,406.2 865.6,406.3 867.2,408.9 868.8,412.5 870.4,411.5 872.0,413.7 873.6,413.4 875.2,408.1 876.8,410.6 878.4,408.1 880.0,411.6 881.6,409.1 883.2,408.5 884.8,410.3 886.4,413.8 888.0,405.7 889.6,411.9 891.2,405.8 892.8,404.6 894.4,406.7 896.0,413.6 897.6,413.1 899.2,412.3 900.8,406.8 902.4,412.3 904.0,406.1 905.6,404.8 907.2,415.0 908.8,411.7 910.4,412.9 912.0,409.2 913.6,415.2 915.2,408.1 916.8,413.5 918.4,411.5 920.0,412.4 921.6,410.4 923.2,409.7 924.8,410.9 926.4,408.5 928.0,406.0 929.6,410.9 931.2,406.5 932.8,412.6 934.4,405.8 936.0,404.9 937.6,404.4 939.2,414.7 945.0,520.0 520.0,520.0" fill="rgb(179, 216, 235)"/>
<polygon points="520.0,397.3 521.6,388.8 523.2,395.0 524.8,392.5 526.4,392.5 528.0,389.8 529.6,391.0 531.2,392.3 532.8,398.4 534.4,388.1 536.0,394.9 537.6,396.6 539.2,399.5 540.8,390.2 542.4,389.2 544.0,397.2 545.6,397.2 547.2,395.0 548.8,388.6 550.4,398.2 552.0,392.3 553.6,399.1 555.2,393.7 556.8,395.7 558.4,391.0 560.0,396.4 561.6,390.9 563.2,393.7 564.8,398.8 566.4,398.5 568.0,388.1 569.6,389.9 571.2,393.7 572.8,394.9 574.4,390.7 576.0,388.0 577.6,389.7 579.2,394.4 580.8,397.3 582.4,389.7 584.0,394.3 585.6,396.2 587.2,386.8 588.8,396.8 590.4,391.3 592.0,395.4 593.6,393.9 595.2,394.9 596.8,392.6 598.4,393.7 600.0,393.1 601.6,393.5 603.2,394.8 604.8,393.1 606.4,391.9 608.0,387.8 609.6,394.3 611.2,393.0 612.8,388.7 614.4,395.3 616.0,397.0 617.6,391.4 619.2,388.8 620.8,394.2 622.4,388.4 624.0,388.8 625.6,391.8 627.2,390.4 628.8,391.3 630.4,394.2 632.0,390.0 633.6,393.9 635.2,388.7 636.8,397.3 638.4,397.1 640.0,393.2 641.6,386.7 643.2,393.1 644.8,391.3 646.4,398.9 648.0,388.1 649.6,396.4 651.2,398.7 652.8,396.3 654.4,395.3 656.0,388.9 657.6,398.9 659.2,395.5 660.8,398.3 662.4,401.6 664.0,392.9 665.6,399.0 667.2,402.3 668.8,392.1 670.4,394.8 672.0,402.6 673.6,395.1 675.2,404.4 676.8,398.1 678.4,406.2 680.0,398.9 681.6,400.5 683.2,408.0 684.8,400.2 686.4,401.4 688.0,406.2 689.6,403.0 691.2,400.8 692.8,404.6 694.4,403.2 696.0,412.6 697.6,410.4 699.2,414.6 700.8,406.3 702.4,413.4 704.0,404.7 705.6,407.8 707.2,411.5 708.8,408.0 710.4,414.5 712.0,411.0 713.6,408.6 715.2,412.4 716.8,403.3 718.4,416.0 720.0,409.1 721.6,406.5 723.2,413.6 724.8,407.0 726.4,412.9 728.0,410.9 729.6,408.6 731.2,412.5 732.8,407.7 734.4,407.8 736.0,413.4 737.6,406.9 739.2,417.5 740.8,411.0 742.4,415.9 744.0,417.3 745.6,414.1 747.2,416.2 748.8,410.8 750.4,411.7 752.0,409.7 753.6,411.4 755.2,417.2 756.8,415.4 758.4,419.2 760.0,422.7 761.6,414.9 763.2,416.4 764.8,420.5 766.4,415.4 768.0,418.2 769.6,422.7 771.2,421.0 772.8,422.2 774.4,421.3 776.0,425.5 777.6,428.3 779.2,424.2 780.8,430.1 782.4,429.3 784.0,426.8 785.6,435.6 787.2,430.5 788.8,427.9 790.4,431.0 792.0,436.3 793.6,437.7 795.2,438.5 796.8,436.0 798.4,434.8 800.0,433.4 801.6,440.2 803.2,439.9 804.8,440.5 806.4,442.8 808.0,443.4 809.6,450.4 811.2,448.4 812.8,441.3 814.4,446.9 816.0,432.0 817.6,435.5 819.2,429.3 820.8,428.1 822.4,426.1 824.0,430.7 825.6,424.7 827.2,426.6 828.8,432.1 830.4,420.8 832.0,423.5 833.6,425.6 835.2,424.6 836.8,424.0 838.4,425.7 840.0,417.8 841.6,417.4 843.2,416.5 844.8,415.9 846.4,422.0 848.0,423.5 849.6,419.5 851.2,410.9 852.8,419.7 854.4,420.9 856.0,418.1 857.6,418.6 859.2,416.0 860.8,411.5 862.4,412.4 864.0,412.5 865.6,407.8 867.2,410.3 868.8,417.0 870.4,413.5 872.0,418.3 873.6,414.7 875.2,409.5 876.8,414.1 878.4,411.7 880.0,416.6 881.6,412.0 883.2,412.2 884.8,414.0 886.4,419.7 888.0,408.7 889.6,418.6 891.2,409.8 892.8,410.1 894.4,408.4 896.0,415.4 897.6,418.6 899.2,414.8 900.8,411.5 902.4,415.7 904.0,411.1 905.6,411.2 907.2,417.4 908.8,415.3 910.4,413.8 912.0,416.3 913.6,416.9 915.2,414.5 916.8,418.9 918.4,417.1 920.0,417.2 921.6,411.6 923.2,415.0 924.8,415.0 926.4,411.0 928.0,411.7 929.6,412.9 931.2,408.5 932.8,419.2 934.4,409.7 936.0,408.1 937.6,407.2 939.2,416.5 945.0,520.0 520.0,520.0" fill="rgb(169, 211, 232)"/>
<polygon points="520.0,402.7 521.6,396.1 523.2,401.8 524.8,396.5 526.4,400.8 528.0,393.3 529.6,397.1 531.2,401.3 532.8,403.3 534.4,396.9 536.0,400.1 537.6,401.2 539.2,404.3 540.8,396.3 542.4,394.5 544.0,405.3 545.6,403.3 547.2,400.1 548.8,393.3 550.4,401.8 552.0,397.7 553.6,401.4 555.2,400.0 556.8,403.0 558.4,394.8 560.0,401.0 561.6,393.1 563.2,397.1 564.8,400.3 566.4,402.3 568.0,393.2 569.6,395.4 571.2,396.6 572.8,398.0 574.4,397.7 576.0,392.9 577.6,394.3 579.2,402.7 580.8,402.2 582.4,394.9 584.0,400.8 585.6,401.4 587.2,392.2 588.8,400.8 590.4,396.1 592.0,398.4 593.6,399.4 595.2,400.4 596.8,395.3 598.4,398.0 600.0,398.6 601.6,398.4 603.2,400.8 604.8,397.9 606.4,397.1 608.0,393.4 609.6,399.2 611.2,397.4 612.8,395.1 614.4,403.4 616.0,402.1 617.6,400.1 619.2,393.6 620.8,400.5 622.4,394.7 624.0,396.1 625.6,398.5 627.2,395.3 628.8,397.3 630.4,400.1 632.0,392.6 633.6,399.6 635.2,392.6 636.8,401.2 638.4,402.2 640.0,398.3 641.6,395.7 643.2,397.4 644.8,398.0 646.4,403.0 648.0,395.5 649.6,404.1 651.2,405.4 652.8,399.9 654.4,401.6 656.0,396.5 657.6,407.3 659.2,398.7 660.8,406.8 662.4,407.2 664.0,400.0 665.6,405.6 667.2,409.6 668.8,399.3 670.4,404.9 672.0,406.3 673.6,404.0 675.2,410.6 676.8,404.3 678.4,409.6 680.0,403.4 681.6,409.9 683.2,414.9 684.8,405.5 686.4,407.5 688.0,410.0 689.6,408.7 691.2,406.3 692.8,408.9 694.4,411.9 696.0,421.1 697.6,418.0 699.2,419.7 700.8,412.1 702.4,420.0 704.0,413.2 705.6,417.1 707.2,417.8 708.8,413.0 710.4,420.4 712.0,417.8 713.6,417.8 715.2,418.3 716.8,412.3 718.4,420.6 720.0,415.8 721.6,416.5 723.2,419.7 724.8,414.2 726.4,419.7 728.0,417.9 729.6,416.0 731.2,420.6 732.8,416.9 734.4,414.7 736.0,421.3 737.6,413.2 739.2,421.5 740.8,417.3 742.4,421.8 744.0,426.4 745.6,420.2 747.2,424.1 748.8,419.0 750.4,417.7 752.0,415.1 753.6,420.3 755.2,425.1 756.8,421.4 758.4,425.0 760.0,427.3 761.6,419.5 763.2,422.4 764.8,427.0 766.4,421.9 768.0,424.2 769.6,428.0 771.2,426.1 772.8,428.4 774.4,429.3 776.0,434.1 777.6,434.5 779.2,432.1 780.8,437.1 782.4,434.6 784.0,430.4 785.6,442.2 787.2,436.2 788.8,433.9 790.4,435.2 792.0,442.8 793.6,446.0 795.2,442.6 796.8,441.1 798.4,438.5 800.0,436.9 801.6,447.4 803.2,445.7 804.8,444.9 806.4,448.6 808.0,447.1 809.6,453.2 811.2,452.7 812.8,448.0 814.4,450.4 816.0,435.7 817.6,436.3 819.2,434.0 820.8,432.9 822.4,429.0 824.0,436.9 825.6,428.2 827.2,430.5 828.8,436.1 830.4,423.9 832.0,426.7 833.6,427.8 835.2,426.1 836.8,429.4 838.4,428.0 840.0,419.6 841.6,423.4 843.2,421.9 844.8,420.0 846.4,427.0 848.0,426.0 849.6,426.8 851.2,416.9 852.8,427.8 854.4,423.2 856.0,422.4 857.6,422.5 859.2,420.5 860.8,415.6 862.4,414.7 864.0,418.9 865.6,414.6 867.2,419.0 868.8,421.0 870.4,420.6 872.0,421.3 873.6,421.6 875.2,417.9 876.8,419.7 878.4,417.9 880.0,423.9 881.6,420.9 883.2,417.1 884.8,418.9 886.4,424.7 888.0,415.7 889.6,425.1 891.2,413.2 892.8,417.1 894.4,416.7 896.0,421.2 897.6,424.0 899.2,422.5 900.8,418.8 902.4,423.2 904.0,416.6 905.6,418.1 907.2,421.8 908.8,421.8 910.4,421.9 912.0,421.1 913.6,424.1 915.2,419.7 916.8,424.4 918.4,422.1 920.0,424.0 921.6,416.5 923.2,420.8 924.8,418.4 926.4,418.8 928.0,417.5 929.6,419.0 931.2,414.8 932.8,423.9 934.4,413.3 936.0,413.4 937.6,415.7 939.2,424.3 945.0,520.0 520.0,520.0" fill="rgb(159, 204, 228)"/>
<polygon points="520.0,408.6 521.6,401.5 523.2,405.5 524.8,403.7 526.4,404.7 528.0,403.0 529.6,403.2 531.2,406.6 532.8,410.7 534.4,400.8 536.0,407.5 537.6,410.2 539.2,412.1 540.8,401.9 542.4,400.4 544.0,410.7 545.6,411.8 547.2,405.9 548.8,399.1 550.4,407.6 552.0,402.9 553.6,409.7 555.2,403.4 556.8,407.7 558.4,397.8 560.0,404.9 561.6,397.8 563.2,400.8 564.8,406.1 566.4,408.3 568.0,401.3 569.6,398.6 571.2,401.2 572.8,405.1 574.4,400.7 576.0,398.4 577.6,400.4 579.2,404.4 580.8,406.9 582.4,398.1 584.0,403.9 585.6,408.5 587.2,397.8 588.8,406.5 590.4,401.4 592.0,405.0 593.6,406.1 595.2,406.2 596.8,403.3 598.4,402.8 600.0,404.0 601.6,404.7 603.2,406.1 604.8,404.1 606.4,404.5 608.0,400.2 609.6,404.9 611.2,403.8 612.8,403.2 614.4,407.5 616.0,406.7 617.6,404.5 619.2,400.0 620.8,405.3 622.4,398.3 624.0,401.7 625.6,404.0 627.2,399.4 628.8,405.6 630.4,403.6 632.0,398.4 633.6,404.3 635.2,400.1 636.8,408.1 638.4,408.2 640.0,404.2 641.6,400.9 643.2,403.3 644.8,402.8 646.4,410.6 648.0,403.1 649.6,409.8 651.2,411.8 652.8,409.3 654.4,408.9 656.0,404.6 657.6,413.1 659.2,406.7 660.8,412.6 662.4,414.4 664.0,404.9 665.6,411.6 667.2,416.5 668.8,406.2 670.4,409.9 672.0,415.6 673.6,410.5 675.2,416.1 676.8,410.7 678.4,416.1 680.0,410.7 681.6,415.6 683.2,422.2 684.8,414.2 686.4,415.0 688.0,417.6 689.6,416.8 691.2,413.0 692.8,417.5 694.4,417.6 696.0,426.9 697.6,421.9 699.2,427.0 700.8,419.6 702.4,425.4 704.0,419.6 705.6,424.2 707.2,424.7 708.8,422.0 710.4,426.9 712.0,424.4 713.6,421.6 715.2,427.3 716.8,418.7 718.4,428.1 720.0,422.8 721.6,419.3 723.2,425.9 724.8,420.9 726.4,426.7 728.0,421.9 729.6,419.6 731.2,423.8 732.8,423.0 734.4,421.7 736.0,427.7 737.6,418.6 739.2,428.9 740.8,420.6 742.4,428.3 744.0,430.4 745.6,425.2 747.2,429.0 748.8,423.5 750.4,421.1 752.0,421.0 753.6,424.2 755.2,430.2 756.8,429.6 758.4,427.8 760.0,435.6 761.6,425.1 763.2,427.4 764.8,434.4 766.4,427.1 768.0,427.6 769.6,433.2 771.2,429.9 772.8,435.7 774.4,432.7 776.0,440.0 777.6,440.7 779.2,436.1 780.8,439.5 782.4,441.6 784.0,435.7 785.6,447.2 787.2,440.0 788.8,438.3 790.4,440.7 792.0,447.8 793.6,450.5 795.2,449.6 796.8,446.5 798.4,446.1 800.0,442.6 801.6,452.8 803.2,453.2 804.8,450.8 806.4,455.8 808.0,452.3 809.6,461.6 811.2,456.9 812.8,451.6 814.4,453.1 816.0,440.6 817.6,442.6 819.2,439.5 820.8,435.7 822.4,432.4 824.0,438.8 825.6,430.3 827.2,434.8 828.8,437.8 830.4,430.3 832.0,429.1 833.6,432.4 835.2,429.4 836.8,432.0 838.4,430.9 840.0,423.2 841.6,425.8 843.2,426.1 844.8,424.2 846.4,432.4 848.0,431.9 849.6,430.9 851.2,422.2 852.8,431.2 854.4,427.4 856.0,424.7 857.6,426.8 859.2,426.9 860.8,423.7 862.4,421.8 864.0,421.6 865.6,419.7 867.2,422.0 868.8,428.3 870.4,429.1 872.0,428.0 873.6,425.4 875.2,421.1 876.8,425.0 878.4,425.8 880.0,429.3 881.6,425.0 883.2,420.8 884.8,424.9 886.4,428.7 888.0,422.9 889.6,429.0 891.2,421.6 892.8,424.0 894.4,423.2 896.0,427.5 897.6,431.1 899.2,426.2 900.8,421.5 902.4,429.4 904.0,423.1 905.6,420.9 907.2,428.4 908.8,424.5 910.4,428.7 912.0,427.6 913.6,432.0 915.2,426.5 916.8,428.4 918.4,428.0 920.0,428.4 921.6,425.5 923.2,428.8 924.8,424.3 926.4,420.9 928.0,420.6 929.6,426.6 931.2,419.8 932.8,427.5 934.4,422.4 936.0,420.9 937.6,420.5 939.2,427.8 945.0,520.0 520.0,520.0" fill="rgb(150, 196, 225)"/>
<polygon points="520.0,416.9 521.6,406.4 523.2,410.5 524.8,408.7 526.4,411.4 528.0,408.5 529.6,408.4 531.2,411.8 532.8,414.9 534.4,406.3 536.0,413.5 537.6,415.1 539.2,416.1 540.8,409.5 542.4,406.4 544.0,415.3 545.6,416.2 547.2,410.8 548.8,405.9 550.4,415.3 552.0,407.9 553.6,411.6 555.2,410.7 556.8,409.8 558.4,403.7 560.0,409.8 561.6,404.8 563.2,407.1 564.8,410.2 566.4,411.8 568.0,404.9 569.6,404.6 571.2,405.3 572.8,409.8 574.4,407.2 576.0,402.3 577.6,404.5 579.2,412.9 580.8,411.8 582.4,403.2 584.0,410.6 585.6,413.0 587.2,404.5 588.8,413.8 590.4,403.2 592.0,408.8 593.6,411.9 595.2,412.2 596.8,405.7 598.4,407.1 600.0,409.8 601.6,410.8 603.2,410.5 604.8,410.0 606.4,411.0 608.0,405.2 609.6,412.9 611.2,408.8 612.8,405.6 614.4,410.9 616.0,414.0 617.6,407.9 619.2,408.3 620.8,410.5 622.4,404.3 624.0,407.1 625.6,407.8 627.2,405.5 628.8,407.7 630.4,411.2 632.0,406.4 633.6,413.1 635.2,403.3 636.8,413.9 638.4,413.2 640.0,411.3 641.6,405.3 643.2,411.0 644.8,409.8 646.4,417.2 648.0,405.7 649.6,413.8 651.2,417.6 652.8,414.0 654.4,415.6 656.0,407.7 657.6,419.9 659.2,412.2 660.8,421.1 662.4,421.1 664.0,412.0 665.6,418.1 667.2,422.3 668.8,411.6 670.4,416.2 672.0,420.0 673.6,417.4 675.2,424.4 676.8,417.4 678.4,422.8 680.0,418.6 681.6,423.6 683.2,428.7 684.8,418.5 686.4,420.7 688.0,423.7 689.6,424.1 691.2,419.1 692.8,423.1 694.4,424.9 696.0,433.2 697.6,427.9 699.2,431.1 700.8,423.5 702.4,432.6 704.0,424.9 705.6,429.1 707.2,430.0 708.8,426.8 710.4,433.3 712.0,429.9 713.6,431.3 715.2,433.8 716.8,425.5 718.4,435.8 720.0,431.5 721.6,428.4 723.2,430.1 724.8,426.8 726.4,435.5 728.0,429.3 729.6,428.7 731.2,430.6 732.8,430.5 734.4,426.0 736.0,433.6 737.6,424.5 739.2,433.6 740.8,428.0 742.4,432.5 744.0,435.7 745.6,433.1 747.2,436.5 748.8,431.7 750.4,429.8 752.0,429.8 753.6,431.8 755.2,437.9 756.8,435.3 758.4,434.7 760.0,439.2 761.6,432.2 763.2,432.4 764.8,438.7 766.4,435.1 768.0,435.8 769.6,438.0 771.2,437.8 772.8,441.4 774.4,441.1 776.0,445.4 777.6,445.2 779.2,440.0 780.8,448.3 782.4,445.3 784.0,443.6 785.6,452.1 787.2,445.9 788.8,447.4 790.4,444.3 792.0,452.4 793.6,456.2 795.2,455.4 796.8,453.6 798.4,450.6 800.0,450.6 801.6,457.3 803.2,458.2 804.8,453.1 806.4,458.0 808.0,457.3 809.6,466.5 811.2,461.9 812.8,455.9 814.4,460.2 816.0,447.1 817.6,444.5 819.2,442.2 820.8,440.5 822.4,437.6 824.0,444.8 825.6,435.4 827.2,438.4 828.8,441.8 830.4,431.1 832.0,433.5 833.6,435.1 835.2,433.2 836.8,436.6 838.4,436.3 840.0,428.1 841.6,429.8 843.2,429.4 844.8,427.0 846.4,434.7 848.0,432.5 849.6,431.8 851.2,423.7 852.8,434.3 854.4,432.3 856.0,429.1 857.6,433.7 859.2,432.3 860.8,428.7 862.4,425.7 864.0,429.1 865.6,424.5 867.2,427.5 868.8,432.8 870.4,432.6 872.0,435.4 873.6,432.9 875.2,429.2 876.8,429.8 878.4,431.8 880.0,433.4 881.6,432.4 883.2,426.4 884.8,433.7 886.4,434.8 888.0,429.1 889.6,436.2 891.2,426.2 892.8,427.3 894.4,426.0 896.0,432.3 897.6,437.3 899.2,432.2 900.8,429.6 902.4,435.4 904.0,429.6 905.6,426.7 907.2,433.9 908.8,430.6 910.4,434.9 912.0,432.2 913.6,436.7 915.2,430.8 916.8,433.5 918.4,431.3 920.0,432.8 921.6,431.5 923.2,431.8 924.8,433.4 926.4,428.2 928.0,428.5 929.6,430.7 931.2,427.3 932.8,434.3 934.4,426.4 936.0,425.7 937.6,424.9 939.2,434.5 945.0,520.0 520.0,520.0" fill="rgb(140, 189, 221)"/>
<polygon points="520.0,422.4 521.6,411.3 523.2,417.6 524.8,416.3 526.4,415.7 528.0,411.6 529.6,413.2 531.2,416.7 532.8,421.4 534.4,413.8 536.0,417.7 537.6,423.1 539.2,421.9 540.8,415.8 542.4,415.2 544.0,421.3 545.6,420.4 547.2,416.1 548.8,409.6 550.4,420.1 552.0,414.7 553.6,417.4 555.2,413.9 556.8,417.2 558.4,408.1 560.0,414.8 561.6,409.5 563.2,410.4 564.8,415.1 566.4,416.3 568.0,409.7 569.6,412.1 571.2,412.7 572.8,412.1 574.4,411.4 576.0,410.7 577.6,411.5 579.2,418.1 580.8,420.5 582.4,410.8 584.0,413.6 585.6,419.2 587.2,409.8 588.8,417.5 590.4,409.5 592.0,417.7 593.6,414.6 595.2,415.1 596.8,412.4 598.4,416.4 600.0,416.5 601.6,415.8 603.2,415.8 604.8,414.9 606.4,414.3 608.0,409.3 609.6,417.7 611.2,415.0 612.8,411.3 614.4,420.5 616.0,418.7 617.6,414.0 619.2,410.2 620.8,416.0 622.4,411.4 624.0,409.7 625.6,414.8 627.2,412.2 628.8,415.2 630.4,414.8 632.0,410.7 633.6,417.6 635.2,411.7 636.8,416.9 638.4,420.0 640.0,417.6 641.6,412.1 643.2,417.8 644.8,414.8 646.4,423.6 648.0,412.0 649.6,420.5 651.2,423.8 652.8,422.4 654.4,420.4 656.0,414.6 657.6,423.1 659.2,419.9 660.8,424.4 662.4,424.7 664.0,419.2 665.6,426.0 667.2,429.5 668.8,418.4 670.4,423.3 672.0,425.6 673.6,423.4 675.2,429.2 676.8,423.9 678.4,430.5 680.0,425.5 681.6,428.2 683.2,435.3 684.8,426.6 686.4,426.1 688.0,431.8 689.6,427.8 691.2,428.5 692.8,428.5 694.4,427.9 696.0,439.9 697.6,435.1 699.2,438.4 700.8,430.4 702.4,438.5 704.0,428.6 705.6,434.5 707.2,434.9 708.8,434.5 710.4,436.8 712.0,435.7 713.6,434.6 715.2,438.7 716.8,430.6 718.4,441.0 720.0,434.7 721.6,432.5 723.2,436.5 724.8,434.0 726.4,438.7 728.0,434.1 729.6,433.3 731.2,438.2 732.8,436.3 734.4,430.4 736.0,437.7 737.6,430.2 739.2,440.7 740.8,434.3 742.4,438.8 744.0,444.9 745.6,439.9 747.2,442.0 748.8,438.9 750.4,433.1 752.0,436.5 753.6,436.0 755.2,440.1 756.8,441.9 758.4,439.9 760.0,444.1 761.6,437.6 763.2,439.4 764.8,447.5 766.4,440.9 768.0,439.6 769.6,444.7 771.2,444.0 772.8,447.3 774.4,446.0 776.0,450.1 777.6,449.4 779.2,446.4 780.8,453.4 782.4,452.2 784.0,450.1 785.6,460.1 787.2,453.4 788.8,450.1 790.4,449.7 792.0,459.7 793.6,461.6 795.2,459.8 796.8,458.3 798.4,455.8 800.0,453.6 801.6,461.8 803.2,462.2 804.8,461.2 806.4,463.2 808.0,464.9 809.6,471.1 811.2,469.5 812.8,463.2 814.4,466.1 816.0,448.7 817.6,451.2 819.2,448.7 820.8,446.0 822.4,442.8 824.0,447.9 825.6,441.7 827.2,446.0 828.8,447.1 830.4,438.2 832.0,440.0 833.6,440.5 835.2,439.3 836.8,442.0 838.4,442.7 840.0,432.1 841.6,435.6 843.2,433.9 844.8,432.4 846.4,442.1 848.0,438.3 849.6,438.0 851.2,430.1 852.8,439.6 854.4,437.5 856.0,434.9 857.6,439.0 859.2,435.9 860.8,432.0 862.4,432.7 864.0,435.5 865.6,431.9 867.2,434.3 868.8,440.3 870.4,438.6 872.0,439.2 873.6,439.0 875.2,432.2 876.8,438.0 878.4,434.6 880.0,439.4 881.6,438.8 883.2,435.2 884.8,439.6 886.4,442.4 888.0,434.1 889.6,441.7 891.2,433.2 892.8,432.9 894.4,434.9 896.0,438.6 897.6,440.6 899.2,440.7 900.8,435.2 902.4,442.3 904.0,436.3 905.6,434.2 907.2,440.0 908.8,436.2 910.4,439.0 912.0,439.4 913.6,441.1 915.2,434.7 916.8,438.5 918.4,437.6 920.0,441.4 921.6,434.0 923.2,438.1 924.8,436.5 926.4,435.4 928.0,435.5 929.6,436.1 931.2,430.5 932.8,443.0 934.4,434.7 936.0,430.1 937.6,431.7 939.2,441.5 945.0,520.0 520.0,520.0" fill="rgb(132, 182, 217)"/>
<polygon points="520.0,426.4 521.6,417.7 523.2,423.8 524.8,420.2 526.4,420.9 528.0,417.0 529.6,418.9 531.2,421.4 532.8,428.3 534.4,420.0 536.0,422.7 537.6,428.6 539.2,430.5 540.8,420.4 542.4,419.7 544.0,427.0 545.6,429.9 547.2,422.5 548.8,415.2 550.4,424.8 552.0,420.5 553.6,424.5 555.2,422.2 556.8,422.0 558.4,416.5 560.0,422.9 561.6,414.0 563.2,418.1 564.8,421.5 566.4,423.5 568.0,416.9 569.6,417.4 571.2,417.3 572.8,418.1 574.4,419.0 576.0,415.9 577.6,415.7 579.2,421.3 580.8,424.8 582.4,413.7 584.0,421.6 585.6,422.3 587.2,414.6 588.8,424.2 590.4,416.8 592.0,423.0 593.6,419.8 595.2,423.5 596.8,418.1 598.4,419.8 600.0,423.1 601.6,421.5 603.2,423.8 604.8,422.6 606.4,419.7 608.0,415.6 609.6,423.5 611.2,420.5 612.8,417.3 614.4,423.4 616.0,425.8 617.6,422.4 619.2,418.9 620.8,423.1 622.4,418.4 624.0,416.7 625.6,420.1 627.2,418.0 628.8,419.2 630.4,422.1 632.0,414.9 633.6,421.3 635.2,417.0 636.8,422.8 638.4,426.4 640.0,423.2 641.6,416.9 643.2,421.1 644.8,419.7 646.4,427.9 648.0,419.3 649.6,426.9 651.2,430.2 652.8,426.8 654.4,429.0 656.0,420.0 657.6,429.1 659.2,425.5 660.8,431.6 662.4,430.8 664.0,424.8 665.6,430.4 667.2,432.9 668.8,424.6 670.4,429.3 672.0,434.5 673.6,426.9 675.2,435.9 676.8,431.6 678.4,438.1 680.0,430.0 681.6,432.5 683.2,439.1 684.8,432.5 686.4,432.3 688.0,434.5 689.6,436.8 691.2,434.0 692.8,433.0 694.4,434.7 696.0,444.4 697.6,440.9 699.2,442.9 700.8,437.9 702.4,444.8 704.0,436.1 705.6,439.3 707.2,441.7 708.8,437.4 710.4,446.5 712.0,439.4 713.6,440.6 715.2,445.9 716.8,434.8 718.4,444.4 720.0,440.3 721.6,438.1 723.2,444.0 724.8,439.3 726.4,444.7 728.0,440.1 729.6,440.1 731.2,443.5 732.8,440.0 734.4,436.6 736.0,443.6 737.6,439.3 739.2,444.7 740.8,439.4 742.4,446.0 744.0,450.7 745.6,446.8 747.2,446.3 748.8,444.7 750.4,440.3 752.0,439.7 753.6,442.1 755.2,448.6 756.8,447.0 758.4,445.9 760.0,450.7 761.6,446.1 763.2,444.5 764.8,452.8 766.4,444.7 768.0,444.8 769.6,449.5 771.2,448.4 772.8,454.0 774.4,449.9 776.0,457.4 777.6,456.1 779.2,452.0 780.8,459.6 782.4,457.1 784.0,453.5 785.6,464.0 787.2,458.7 788.8,458.6 790.4,457.6 792.0,462.0 793.6,468.3 795.2,467.4 796.8,465.1 798.4,464.4 800.0,459.9 801.6,469.6 803.2,469.3 804.8,465.4 806.4,470.3 808.0,469.3 809.6,475.9 811.2,475.0 812.8,466.9 814.4,469.7 816.0,458.2 817.6,456.8 819.2,454.4 820.8,452.6 822.4,449.2 824.0,454.1 825.6,447.4 827.2,451.9 828.8,456.0 830.4,445.2 832.0,445.0 833.6,448.8 835.2,444.5 836.8,446.7 838.4,446.5 840.0,440.4 841.6,439.0 843.2,440.5 844.8,437.0 846.4,448.2 848.0,445.1 849.6,446.3 851.2,438.5 852.8,447.9 854.4,443.8 856.0,444.0 857.6,446.2 859.2,442.8 860.8,440.2 862.4,436.4 864.0,441.1 865.6,437.7 867.2,440.6 868.8,444.7 870.4,445.9 872.0,447.5 873.6,446.4 875.2,438.9 876.8,442.5 878.4,440.9 880.0,444.2 881.6,442.2 883.2,438.1 884.8,445.3 886.4,446.6 888.0,437.8 889.6,445.0 891.2,438.2 892.8,438.7 894.4,439.5 896.0,444.9 897.6,448.7 899.2,447.1 900.8,439.9 902.4,447.3 904.0,442.3 905.6,439.6 907.2,448.7 908.8,445.0 910.4,444.0 912.0,445.9 913.6,448.2 915.2,440.7 916.8,446.7 918.4,446.1 920.0,446.6 921.6,441.8 923.2,444.7 924.8,444.9 926.4,441.1 928.0,438.3 929.6,443.4 931.2,437.4 932.8,448.9 934.4,439.5 936.0,435.9 937.6,439.9 939.2,445.4 945.0,520.0 520.0,520.0" fill="rgb(125, 175, 213)"/>
<polygon points="520.0,433.3 521.6,423.7 523.2,430.7 524.8,426.8 526.4,426.9 528.0,424.7 529.6,427.4 531.2,430.1 532.8,433.1 534.4,423.9 536.0,430.5 537.6,434.6 539.2,434.3 540.8,428.4 542.4,427.6 544.0,433.9 545.6,433.5 547.2,429.0 548.8,424.6 550.4,430.8 552.0,424.8 553.6,430.2 555.2,428.2 556.8,427.7 558.4,421.4 560.0,427.6 561.6,422.2 563.2,422.2 564.8,430.5 566.4,430.6 568.0,421.8 569.6,423.3 571.2,422.9 572.8,427.3 574.4,424.5 576.0,422.6 577.6,424.5 579.2,427.8 580.8,432.1 582.4,419.9 584.0,425.1 585.6,429.2 587.2,423.0 588.8,432.0 590.4,424.4 592.0,428.0 593.6,429.3 595.2,428.7 596.8,423.7 598.4,427.0 600.0,429.6 601.6,426.3 603.2,429.6 604.8,425.9 606.4,425.9 608.0,421.9 609.6,428.8 611.2,427.2 612.8,422.9 614.4,428.4 616.0,429.9 617.6,427.9 619.2,424.9 620.8,426.1 622.4,422.2 624.0,423.5 625.6,425.4 627.2,423.4 628.8,428.4 630.4,426.4 632.0,422.8 633.6,429.9 635.2,423.9 636.8,430.9 638.4,431.4 640.0,426.7 641.6,424.2 643.2,429.9 644.8,425.3 646.4,435.5 648.0,424.8 649.6,431.7 651.2,433.4 652.8,433.8 654.4,434.5 656.0,426.0 657.6,436.5 659.2,432.4 660.8,439.5 662.4,437.0 664.0,431.1 665.6,436.4 667.2,438.3 668.8,429.2 670.4,433.9 672.0,439.8 673.6,432.5 675.2,440.7 676.8,434.6 678.4,440.6 680.0,434.2 681.6,439.2 683.2,445.1 684.8,436.6 686.4,438.9 688.0,442.0 689.6,442.7 691.2,438.2 692.8,442.2 694.4,440.6 696.0,448.6 697.6,448.0 699.2,449.1 700.8,441.5 702.4,447.9 704.0,443.0 705.6,448.7 707.2,447.6 708.8,444.3 710.4,450.3 712.0,446.5 713.6,448.1 715.2,450.2 716.8,440.7 718.4,453.4 720.0,448.2 721.6,443.3 723.2,451.1 724.8,444.8 726.4,451.3 728.0,447.8 729.6,446.6 731.2,449.3 732.8,446.2 734.4,443.1 736.0,450.8 737.6,443.9 739.2,453.1 740.8,448.1 742.4,449.5 744.0,454.5 745.6,452.5 747.2,453.4 748.8,449.2 750.4,446.5 752.0,445.8 753.6,449.9 755.2,453.8 756.8,451.6 758.4,452.0 760.0,456.3 761.6,451.8 763.2,453.2 764.8,455.5 766.4,450.5 768.0,451.7 769.6,456.3 771.2,453.8 772.8,459.5 774.4,456.6 776.0,462.0 777.6,464.4 779.2,459.7 780.8,464.4 782.4,463.0 784.0,460.2 785.6,470.7 787.2,464.5 788.8,462.1 790.4,462.7 792.0,469.4 793.6,472.6 795.2,474.5 796.8,469.5 798.4,467.6 800.0,465.8 801.6,475.4 803.2,472.5 804.8,473.0 806.4,474.8 808.0,474.5 809.6,480.6 811.2,482.6 812.8,472.9 814.4,475.6 816.0,460.7 817.6,462.1 819.2,460.7 820.8,457.8 822.4,455.7 824.0,462.8 825.6,451.8 827.2,458.3 828.8,458.3 830.4,451.9 832.0,449.6 833.6,452.2 835.2,452.4 836.8,453.4 838.4,452.4 840.0,443.3 841.6,447.9 843.2,447.3 844.8,443.9 846.4,454.7 848.0,449.7 849.6,449.1 851.2,441.5 852.8,450.3 854.4,452.0 856.0,448.6 857.6,449.6 859.2,446.6 860.8,444.2 862.4,444.6 864.0,446.2 865.6,445.3 867.2,446.1 868.8,453.1 870.4,450.4 872.0,451.8 873.6,449.8 875.2,444.8 876.8,451.0 878.4,449.7 880.0,452.5 881.6,447.4 883.2,444.6 884.8,448.6 886.4,453.0 888.0,446.3 889.6,450.9 891.2,443.3 892.8,446.6 894.4,443.7 896.0,450.9 897.6,454.5 899.2,451.5 900.8,446.4 902.4,454.2 904.0,447.0 905.6,444.9 907.2,452.5 908.8,451.7 910.4,452.0 912.0,451.9 913.6,454.0 915.2,446.7 916.8,450.9 918.4,450.2 920.0,453.2 921.6,445.8 923.2,452.1 924.8,450.4 926.4,446.4 928.0,443.3 929.6,451.0 931.2,443.5 932.8,453.7 934.4,444.8 936.0,444.2 937.6,443.8 939.2,455.0 945.0,520.0 520.0,520.0" fill="rgb(118, 167, 209)"/>
<polygon points="520.0,440.7 521.6,431.5 523.2,436.2 524.8,432.2 526.4,433.9 528.0,429.5 529.6,433.6 531.2,436.0 532.8,440.7 534.4,432.2 536.0,437.4 537.6,440.0 539.2,440.6 540.8,433.8 542.4,430.6 544.0,440.5 545.6,438.5 547.2,435.4 548.8,428.8 550.4,437.0 552.0,433.2 553.6,435.1 555.2,434.8 556.8,435.9 558.4,425.7 560.0,434.5 561.6,427.7 563.2,431.2 564.8,434.9 566.4,434.2 568.0,429.2 569.6,426.3 571.2,431.2 572.8,429.9 574.4,429.3 576.0,425.9 577.6,430.4 579.2,434.0 580.8,437.2 582.4,426.0 584.0,433.8 585.6,435.7 587.2,425.7 588.8,436.2 590.4,429.3 592.0,432.7 593.6,434.0 595.2,433.5 596.8,430.5 598.4,434.0 600.0,436.0 601.6,434.5 603.2,434.8 604.8,433.1 606.4,433.9 608.0,429.1 609.6,434.5 611.2,434.7 612.8,430.0 614.4,438.1 616.0,436.3 617.6,431.4 619.2,430.8 620.8,431.6 622.4,429.7 624.0,427.5 625.6,434.5 627.2,429.0 628.8,433.7 630.4,432.0 632.0,428.8 633.6,434.4 635.2,427.8 636.8,437.2 638.4,434.5 640.0,433.4 641.6,427.1 643.2,435.4 644.8,434.5 646.4,437.7 648.0,430.8 649.6,439.1 651.2,441.9 652.8,439.4 654.4,439.1 656.0,435.1 657.6,441.3 659.2,436.3 660.8,444.7 662.4,442.0 664.0,434.6 665.6,443.3 667.2,444.8 668.8,435.1 670.4,441.9 672.0,445.1 673.6,440.4 675.2,446.9 676.8,443.3 678.4,447.0 680.0,442.9 681.6,446.3 683.2,452.9 684.8,444.8 686.4,445.4 688.0,448.3 689.6,448.1 691.2,443.9 692.8,444.7 694.4,448.3 696.0,457.0 697.6,454.2 699.2,457.4 700.8,447.6 702.4,455.3 704.0,449.4 705.6,454.5 707.2,455.5 708.8,449.5 710.4,457.2 712.0,453.2 713.6,452.9 715.2,455.2 716.8,446.6 718.4,457.7 720.0,453.8 721.6,450.3 723.2,455.1 724.8,450.0 726.4,458.8 728.0,453.6 729.6,449.5 731.2,457.1 732.8,451.8 734.4,451.7 736.0,458.4 737.6,447.7 739.2,458.3 740.8,454.0 742.4,456.3 744.0,461.1 745.6,456.2 747.2,456.3 748.8,453.5 750.4,450.1 752.0,451.5 753.6,454.5 755.2,459.8 756.8,459.7 758.4,459.9 760.0,463.2 761.6,457.8 763.2,458.4 764.8,463.5 766.4,458.5 768.0,458.3 769.6,461.7 771.2,460.7 772.8,463.0 774.4,464.9 776.0,466.7 777.6,470.4 779.2,463.3 780.8,468.5 782.4,469.7 784.0,465.4 785.6,476.1 787.2,467.7 788.8,470.3 790.4,469.8 792.0,476.5 793.6,480.7 795.2,480.7 796.8,475.9 798.4,475.3 800.0,470.3 801.6,478.2 803.2,479.5 804.8,480.0 806.4,481.8 808.0,481.9 809.6,486.3 811.2,487.0 812.8,481.8 814.4,482.9 816.0,469.6 817.6,467.0 819.2,464.4 820.8,461.5 822.4,461.2 824.0,465.3 825.6,459.2 827.2,461.5 828.8,467.3 830.4,456.2 832.0,455.1 833.6,461.2 835.2,456.9 836.8,458.6 838.4,457.0 840.0,452.1 841.6,454.2 843.2,450.6 844.8,450.4 846.4,457.7 848.0,456.1 849.6,456.2 851.2,449.6 852.8,460.0 854.4,459.0 856.0,455.9 857.6,457.5 859.2,454.4 860.8,450.0 862.4,450.9 864.0,451.6 865.6,448.7 867.2,454.1 868.8,456.1 870.4,455.1 872.0,456.8 873.6,455.3 875.2,452.1 876.8,456.1 878.4,452.3 880.0,457.5 881.6,454.9 883.2,452.0 884.8,455.6 886.4,459.6 888.0,449.3 889.6,456.8 891.2,448.7 892.8,450.7 894.4,452.5 896.0,456.0 897.6,460.5 899.2,456.0 900.8,450.8 902.4,458.4 904.0,452.0 905.6,450.8 907.2,459.9 908.8,454.7 910.4,457.2 912.0,457.5 913.6,459.4 915.2,454.0 916.8,459.8 918.4,456.9 920.0,457.0 921.6,451.9 923.2,455.2 924.8,454.5 926.4,450.6 928.0,451.8 929.6,455.4 931.2,448.9 932.8,458.9 934.4,452.2 936.0,448.1 937.6,448.6 939.2,458.3 945.0,520.0 520.0,520.0" fill="rgb(112, 160, 205)"/>
<polygon points="520.0,444.0 521.6,437.4 523.2,442.4 524.8,438.5 526.4,438.9 528.0,434.5 529.6,436.3 531.2,442.1 532.8,446.1 534.4,435.4 536.0,441.8 537.6,443.3 539.2,447.2 540.8,438.0 542.4,435.8 544.0,446.9 545.6,446.7 547.2,439.9 548.8,433.4 550.4,444.5 552.0,437.1 553.6,443.2 555.2,437.4 556.8,442.4 558.4,431.0 560.0,438.3 561.6,432.9 563.2,434.2 564.8,438.8 566.4,441.1 568.0,435.3 569.6,433.2 571.2,435.0 572.8,438.1 574.4,434.9 576.0,432.9 577.6,435.5 579.2,439.9 580.8,440.8 582.4,431.1 584.0,438.9 585.6,442.9 587.2,434.9 588.8,440.5 590.4,434.3 592.0,439.7 593.6,438.1 595.2,441.0 596.8,436.8 598.4,439.5 600.0,439.3 601.6,440.2 603.2,442.2 604.8,438.5 606.4,437.1 608.0,433.9 609.6,439.1 611.2,439.9 612.8,437.1 614.4,442.4 616.0,444.2 617.6,437.0 619.2,436.6 620.8,440.1 622.4,433.4 624.0,434.4 625.6,436.7 627.2,435.1 628.8,439.5 630.4,438.7 632.0,435.0 633.6,440.2 635.2,435.5 636.8,440.9 638.4,444.2 640.0,439.1 641.6,432.7 643.2,438.3 644.8,439.8 646.4,446.9 648.0,437.4 649.6,443.7 651.2,448.4 652.8,445.2 654.4,444.0 656.0,438.7 657.6,449.1 659.2,441.7 660.8,447.5 662.4,448.9 664.0,443.3 665.6,451.2 667.2,450.6 668.8,444.0 670.4,447.2 672.0,452.6 673.6,445.4 675.2,455.7 676.8,448.1 678.4,455.8 680.0,447.5 681.6,450.5 683.2,457.0 684.8,449.6 686.4,450.1 688.0,453.5 689.6,452.6 691.2,450.4 692.8,451.1 694.4,451.6 696.0,461.6 697.6,459.4 699.2,462.0 700.8,455.2 702.4,460.1 704.0,454.1 705.6,457.7 707.2,460.8 708.8,457.5 710.4,463.5 712.0,458.9 713.6,458.1 715.2,464.1 716.8,453.9 718.4,463.2 720.0,458.8 721.6,456.7 723.2,462.3 724.8,456.9 726.4,463.6 728.0,460.0 729.6,455.5 731.2,461.2 732.8,457.7 734.4,454.9 736.0,461.8 737.6,456.1 739.2,464.8 740.8,456.9 742.4,461.6 744.0,468.0 745.6,463.4 747.2,464.8 748.8,461.1 750.4,458.3 752.0,457.3 753.6,458.1 755.2,464.8 756.8,461.9 758.4,466.8 760.0,469.7 761.6,462.6 763.2,465.6 764.8,470.4 766.4,461.9 768.0,462.8 769.6,466.6 771.2,467.3 772.8,470.6 774.4,468.9 776.0,473.1 777.6,473.5 779.2,470.9 780.8,477.2 782.4,477.0 784.0,473.8 785.6,483.5 787.2,474.9 788.8,474.5 790.4,474.2 792.0,483.5 793.6,483.6 795.2,483.2 796.8,480.2 798.4,482.0 800.0,479.6 801.6,485.2 803.2,487.0 804.8,485.6 806.4,488.1 808.0,486.2 809.6,495.2 811.2,492.7 812.8,484.5 814.4,490.1 816.0,474.0 817.6,474.4 819.2,471.9 820.8,467.7 822.4,463.9 824.0,472.3 825.6,462.9 827.2,466.4 828.8,471.2 830.4,463.0 832.0,461.0 833.6,465.9 835.2,463.6 836.8,462.4 838.4,462.7 840.0,457.4 841.6,458.6 843.2,457.2 844.8,454.1 846.4,465.9 848.0,465.0 849.6,461.5 851.2,455.1 852.8,464.3 854.4,462.2 856.0,458.0 857.6,462.2 859.2,460.3 860.8,457.6 862.4,455.9 864.0,455.8 865.6,454.0 867.2,457.7 868.8,462.6 870.4,461.8 872.0,465.6 873.6,461.0 875.2,459.6 876.8,459.8 878.4,461.0 880.0,462.4 881.6,460.8 883.2,457.2 884.8,459.9 886.4,466.5 888.0,458.4 889.6,463.5 891.2,456.0 892.8,457.5 894.4,459.3 896.0,461.1 897.6,464.6 899.2,461.9 900.8,458.8 902.4,465.5 904.0,459.7 905.6,457.6 907.2,464.3 908.8,462.9 910.4,460.8 912.0,461.1 913.6,466.5 915.2,459.7 916.8,465.9 918.4,460.8 920.0,464.0 921.6,458.4 923.2,460.7 924.8,459.4 926.4,456.5 928.0,456.5 929.6,461.3 931.2,455.6 932.8,463.9 934.4,457.1 936.0,455.1 937.6,457.8 939.2,463.6 945.0,520.0 520.0,520.0" fill="rgb(107, 154, 202)"/>
<polygon points="520.0,450.7 521.6,441.6 523.2,446.9 524.8,446.1 526.4,445.0 528.0,443.7 529.6,443.2 531.2,445.9 532.8,451.8 534.4,442.9 536.0,446.3 537.6,449.3 539.2,454.9 540.8,444.0 542.4,441.7 544.0,452.4 545.6,451.8 547.2,445.1 548.8,439.9 550.4,451.1 552.0,442.6 553.6,448.2 555.2,446.7 556.8,446.1 558.4,438.5 560.0,443.9 561.6,439.8 563.2,442.0 564.8,446.1 566.4,445.8 568.0,438.2 569.6,440.9 571.2,441.7 572.8,444.6 574.4,441.4 576.0,440.1 577.6,438.8 579.2,444.9 580.8,449.9 582.4,439.5 584.0,445.3 585.6,446.9 587.2,439.0 588.8,446.8 590.4,438.9 592.0,446.2 593.6,446.0 595.2,445.2 596.8,443.3 598.4,442.7 600.0,446.5 601.6,443.0 603.2,446.9 604.8,443.8 606.4,444.6 608.0,438.4 609.6,446.4 611.2,445.5 612.8,440.7 614.4,447.3 616.0,448.9 617.6,444.8 619.2,442.1 620.8,445.9 622.4,441.1 624.0,439.9 625.6,444.1 627.2,441.9 628.8,444.7 630.4,446.2 632.0,439.5 633.6,446.4 635.2,442.4 636.8,449.0 638.4,448.8 640.0,443.7 641.6,441.0 643.2,443.9 644.8,446.5 646.4,453.2 648.0,443.6 649.6,450.0 651.2,454.2 652.8,448.9 654.4,452.8 656.0,445.2 657.6,452.4 659.2,451.1 660.8,455.0 662.4,456.6 664.0,448.4 665.6,455.2 667.2,458.6 668.8,447.1 670.4,453.5 672.0,456.3 673.6,449.1 675.2,459.0 676.8,451.7 678.4,458.2 680.0,453.6 681.6,456.1 683.2,461.4 684.8,454.7 686.4,455.8 688.0,461.6 689.6,460.1 691.2,457.4 692.8,460.0 694.4,458.2 696.0,468.7 697.6,464.4 699.2,469.9 700.8,461.7 702.4,468.2 704.0,458.8 705.6,462.8 707.2,467.3 708.8,462.8 710.4,468.7 712.0,466.2 713.6,463.6 715.2,469.1 716.8,459.6 718.4,470.7 720.0,465.4 721.6,461.7 723.2,469.2 724.8,460.7 726.4,470.5 728.0,466.3 729.6,461.6 731.2,468.1 732.8,463.7 734.4,460.5 736.0,467.1 737.6,462.7 739.2,469.3 740.8,464.0 742.4,468.5 744.0,470.8 745.6,469.7 747.2,470.9 748.8,467.9 750.4,462.8 752.0,463.0 753.6,465.2 755.2,472.2 756.8,470.3 758.4,470.5 760.0,475.6 761.6,466.4 763.2,471.3 764.8,474.9 766.4,468.9 768.0,470.5 769.6,472.8 771.2,472.9 772.8,474.9 774.4,476.1 776.0,477.9 777.6,479.4 779.2,477.4 780.8,482.1 782.4,480.8 784.0,478.6 785.6,486.7 787.2,480.7 788.8,478.7 790.4,482.0 792.0,486.5 793.6,492.1 795.2,490.7 796.8,487.4 798.4,486.7 800.0,482.6 801.6,492.8 803.2,490.7 804.8,491.3 806.4,495.5 808.0,494.1 809.6,501.3 811.2,498.8 812.8,492.6 814.4,496.2 816.0,478.9 817.6,479.1 819.2,477.0 820.8,474.6 822.4,470.3 824.0,477.5 825.6,470.7 827.2,473.8 828.8,476.2 830.4,466.6 832.0,467.8 833.6,469.8 835.2,468.9 836.8,469.7 838.4,470.3 840.0,462.6 841.6,465.4 843.2,462.0 844.8,462.9 846.4,469.2 848.0,467.4 849.6,469.6 851.2,461.0 852.8,470.1 854.4,467.7 856.0,466.9 857.6,468.0 859.2,466.5 860.8,462.0 862.4,462.1 864.0,463.8 865.6,460.5 867.2,464.2 868.8,467.1 870.4,468.8 872.0,470.7 873.6,467.1 875.2,463.7 876.8,467.6 878.4,463.8 880.0,470.6 881.6,467.9 883.2,461.7 884.8,466.7 886.4,469.6 888.0,462.0 889.6,468.6 891.2,460.7 892.8,462.5 894.4,462.4 896.0,468.6 897.6,470.5 899.2,470.0 900.8,465.1 902.4,468.8 904.0,463.1 905.6,461.3 907.2,469.9 908.8,466.0 910.4,469.0 912.0,469.1 913.6,473.4 915.2,464.6 916.8,468.0 918.4,469.3 920.0,469.7 921.6,467.2 923.2,468.2 924.8,466.1 926.4,462.3 928.0,464.7 929.6,467.5 931.2,461.2 932.8,470.4 934.4,463.3 936.0,462.2 937.6,461.7 939.2,469.5 945.0,520.0 520.0,520.0" fill="rgb(101, 147, 198)"/>
<polygon points="520.0,456.1 521.6,449.0 523.2,453.0 524.8,451.2 526.4,452.3 528.0,448.0 529.6,449.9 531.2,451.5 532.8,457.5 534.4,450.0 536.0,451.4 537.6,456.3 539.2,460.5 540.8,452.3 542.4,447.2 544.0,458.2 545.6,458.1 547.2,453.0 548.8,446.3 550.4,454.1 552.0,448.4 553.6,455.2 555.2,451.7 556.8,451.3 558.4,445.3 560.0,451.8 561.6,445.7 563.2,445.3 564.8,451.9 566.4,451.4 568.0,445.5 569.6,445.0 571.2,446.2 572.8,449.8 574.4,446.9 576.0,446.2 577.6,445.8 579.2,452.1 580.8,455.2 582.4,443.1 584.0,451.4 585.6,451.0 587.2,446.7 588.8,452.0 590.4,447.0 592.0,451.0 593.6,449.8 595.2,451.6 596.8,448.6 598.4,449.7 600.0,450.4 601.6,450.3 603.2,451.9 604.8,452.3 606.4,449.9 608.0,445.5 609.6,451.2 611.2,452.8 612.8,447.4 614.4,454.5 616.0,455.4 617.6,450.1 619.2,448.5 620.8,449.8 622.4,445.1 624.0,445.1 625.6,450.0 627.2,448.0 628.8,449.2 630.4,450.9 632.0,447.0 633.6,451.6 635.2,445.0 636.8,453.6 638.4,453.8 640.0,452.9 641.6,448.0 643.2,450.6 644.8,450.9 646.4,456.9 648.0,446.7 649.6,456.6 651.2,460.4 652.8,455.3 654.4,457.7 656.0,451.8 657.6,458.5 659.2,457.1 660.8,459.5 662.4,460.4 664.0,454.4 665.6,459.0 667.2,462.6 668.8,452.6 670.4,457.7 672.0,460.9 673.6,455.5 675.2,464.4 676.8,457.6 678.4,464.2 680.0,457.7 681.6,463.6 683.2,467.2 684.8,462.7 686.4,462.2 688.0,464.8 689.6,463.3 691.2,463.1 692.8,462.1 694.4,465.3 696.0,471.8 697.6,472.9 699.2,473.7 700.8,466.7 702.4,474.6 704.0,464.2 705.6,468.6 707.2,472.3 708.8,468.8 710.4,475.0 712.0,469.7 713.6,470.9 715.2,473.0 716.8,465.4 718.4,474.5 720.0,471.8 721.6,468.0 723.2,472.4 724.8,468.0 726.4,473.7 728.0,472.1 729.6,468.4 731.2,472.1 732.8,468.5 734.4,467.5 736.0,474.1 737.6,467.7 739.2,475.2 740.8,469.5 742.4,476.0 744.0,477.7 745.6,476.5 747.2,477.4 748.8,474.3 750.4,471.1 752.0,469.0 753.6,472.9 755.2,477.6 756.8,474.3 758.4,478.8 760.0,481.9 761.6,474.9 763.2,475.7 764.8,479.2 766.4,476.2 768.0,474.0 769.6,478.9 771.2,478.4 772.8,480.2 774.4,480.5 776.0,486.2 777.6,484.6 779.2,483.3 780.8,486.5 782.4,487.1 784.0,484.8 785.6,494.5 787.2,485.0 788.8,485.3 790.4,488.6 792.0,493.0 793.6,496.3 795.2,495.9 796.8,493.7 798.4,493.0 800.0,490.6 801.6,497.2 803.2,497.7 804.8,495.8 806.4,499.0 808.0,501.0 809.6,507.8 811.2,506.0 812.8,499.8 814.4,500.1 816.0,487.3 817.6,485.5 819.2,484.2 820.8,481.3 822.4,479.3 824.0,485.9 825.6,476.7 827.2,479.2 828.8,484.6 830.4,473.6 832.0,472.7 833.6,476.4 835.2,476.1 836.8,476.8 838.4,477.8 840.0,469.1 841.6,468.6 843.2,468.4 844.8,467.3 846.4,475.1 848.0,474.5 849.6,472.8 851.2,465.2 852.8,476.7 854.4,473.6 856.0,473.0 857.6,474.0 859.2,472.9 860.8,468.2 862.4,466.7 864.0,468.6 865.6,465.0 867.2,469.9 868.8,474.3 870.4,472.2 872.0,477.2 873.6,473.8 875.2,467.4 876.8,474.4 878.4,470.2 880.0,474.2 881.6,470.4 883.2,467.8 884.8,474.4 886.4,477.4 888.0,468.9 889.6,475.2 891.2,465.8 892.8,471.2 894.4,468.6 896.0,476.6 897.6,478.4 899.2,473.2 900.8,471.5 902.4,474.3 904.0,471.0 905.6,470.4 907.2,477.3 908.8,473.6 910.4,475.4 912.0,472.4 913.6,477.4 915.2,470.7 916.8,475.3 918.4,472.9 920.0,476.8 921.6,471.6 923.2,475.6 924.8,473.3 926.4,470.3 928.0,470.5 929.6,474.6 931.2,467.6 932.8,475.8 934.4,469.8 936.0,466.3 937.6,466.1 939.2,476.1 945.0,520.0 520.0,520.0" fill="rgb(96, 140, 194)"/>
<polygon points="878,400 884,388 897,378 906,374 922,376 934,396 934,418 878,418" fill="#7aa6d2"/>
<polygon points="868,398 876,384 894,370 908,370 918,374 900,380 886,388 880,400" fill="#b8d8eb"/>
</g>
<g filter="url(#b3)" fill="none" stroke="#faecd0" stroke-linecap="round" opacity="0.62">
<polyline points="600,352 625,340 650,331 690,322" stroke-width="24"/>
<polyline points="694,367 712,360 784,329 800,326" stroke-width="15"/>
<polyline points="745,390 790,382 840,366 880,354" stroke-width="10" opacity="0.6"/>
<polyline points="770,338 800,344 832,340" stroke-width="20" opacity="0.8"/>
</g>
</g>
<g class="ax">
<path d="M507.5 298.4V469"/>
<path d="M507.5 298.5h7.5"/>
<path d="M507.5 326.5h7.5"/>
<path d="M507.5 355.5h7.5"/>
<path d="M507.5 383.5h7.5"/>
<path d="M507.5 412.5h7.5"/>
<path d="M507.5 440.5h7.5"/>
<path d="M507.5 469.5h7.5"/>
<path d="M507.7 468.3L780 519.4L936.3 433"/>
<path d="M780.0 519.4l-6.5 -1.2"/>
<path d="M802.3 507.1l-6.5 -1.2"/>
<path d="M824.7 494.7l-6.5 -1.2"/>
<path d="M847.0 482.4l-6.5 -1.2"/>
<path d="M869.3 470.0l-6.5 -1.2"/>
<path d="M891.6 457.7l-6.5 -1.2"/>
<path d="M914.0 445.4l-6.5 -1.2"/>
<path d="M936.3 433.0l-6.5 -1.2"/>
<path d="M507.7 468.3l5.5 -3"/>
<path d="M562.2 478.5l5.5 -3"/>
<path d="M616.6 488.7l5.5 -3"/>
<path d="M671.1 499.0l5.5 -3"/>
<path d="M725.5 509.2l5.5 -3"/>
<path d="M780.0 519.4l5.5 -3"/>
<path d="M530.0 456.0l6.5 1.2"/>
<path d="M552.4 443.6l6.5 1.2"/>
<path d="M574.7 431.3l6.5 1.2"/>
<path d="M909.1 427.9l-3.5 2"/>
<path d="M881.8 422.8l-3.5 2"/>
<path d="M854.6 417.7l-3.5 2"/>
</g>
<polygon points="649.4,311.8 785.4,239 785.4,407.9 649.4,482" fill="none" stroke="#ff0000" stroke-width="1"/>
<text x="494" y="301.7" text-anchor="end">0</text>
<text x="494" y="330.2" text-anchor="end">-20</text>
<text x="494" y="358.7" text-anchor="end">-40</text>
<text x="494" y="387.2" text-anchor="end">-60</text>
<text x="494" y="415.7" text-anchor="end">-80</text>
<text x="494" y="444.2" text-anchor="end">-100</text>
<text x="494" y="472.7" text-anchor="end">-120</text>
<text transform="translate(447,382.5) rotate(-90)" text-anchor="middle">PSD (dBm)</text>
<text x="502.3" y="477.1" text-anchor="middle">19:37:40</text>
<text x="556.5" y="487.0" text-anchor="middle">19:38:00</text>
<text x="610.7" y="496.9" text-anchor="middle">19:38:20</text>
<text x="664.9" y="506.8" text-anchor="middle">19:38:40</text>
<text x="719.1" y="516.7" text-anchor="middle">19:39:00</text>
<text x="773.3" y="526.6" text-anchor="middle">19:39:20</text>
<text x="812.8" y="524.2" text-anchor="middle">1210</text>
<text x="834.9" y="512.0" text-anchor="middle">1215</text>
<text x="857.0" y="499.7" text-anchor="middle">1220</text>
<text x="879.1" y="487.5" text-anchor="middle">1225</text>
<text x="901.2" y="475.2" text-anchor="middle">1230</text>
<text x="923.3" y="463.0" text-anchor="middle">1235</text>
<text x="945.4" y="450.8" text-anchor="middle">1240</text>
<text x="967.5" y="438.5" text-anchor="middle">1245</text>
<text transform="translate(600,519) rotate(10.6)" text-anchor="middle">Time (UTC)</text>
<text transform="translate(935.5,490) rotate(-28)" text-anchor="middle">Frequency (MHz)</text>
</g>
<!-- BOTTOM -->
<g id="bot">
<line x1="258.5" y1="620.5" x2="258.5" y2="719.5" class="grid"/>
<line x1="442.5" y1="620.5" x2="442.5" y2="719.5" class="grid"/>
<line x1="627.5" y1="620.5" x2="627.5" y2="719.5" class="grid"/>
<line x1="811.5" y1="620.5" x2="811.5" y2="719.5" class="grid"/>
<line x1="73.5" y1="641.5" x2="996.5" y2="641.5" class="grid"/>
<line x1="73.5" y1="680.5" x2="996.5" y2="680.5" class="grid"/>
<rect x="73.5" y="620.5" width="923.0" height="99.0" fill="none" class="ax"/>
<path d="M258.5 719.5v-8.5M258.5 620.5v8.5" class="ax"/>
<path d="M442.5 719.5v-8.5M442.5 620.5v8.5" class="ax"/>
<path d="M627.5 719.5v-8.5M627.5 620.5v8.5" class="ax"/>
<path d="M811.5 719.5v-8.5M811.5 620.5v8.5" class="ax"/>
<path d="M165.5 719.5v-3M165.5 620.5v3" class="ax"/>
<path d="M350.5 719.5v-3M350.5 620.5v3" class="ax"/>
<path d="M534.5 719.5v-3M534.5 620.5v3" class="ax"/>
<path d="M719.5 719.5v-3M719.5 620.5v3" class="ax"/>
<path d="M904.5 719.5v-3M904.5 620.5v3" class="ax"/>
<path d="M73.5 641.5h8.5M996.5 641.5h-8.5" class="ax"/>
<path d="M73.5 680.5h8.5M996.5 680.5h-8.5" class="ax"/>
<polyline class="dl" points="128.2,693.3 132.9,694.1 142.5,694.3 143.4,695.1 147.3,695.3 157.1,688.6 165.7,684.3"/>
<polyline class="dl" points="193.2,671.3 202.4,683.4 221,689.4 230.4,668.1 239.5,678.3 249.3,678.3 254.8,676.1 258.3,675.2 268.4,681 294.8,688.4 301.6,680.4 313.3,668.2 331.6,678.5 342,665 350.8,660.3 359.2,658.4 368.8,668.3 386.9,663.2 396.7,662.3 405.9,680.4 414.3,669.7 425,660.3 433.2,662.5 442.6,655.2 450.4,656.4 470.9,652.1 479.7,643.5 490,641 498.2,639.4 507.6,641.4 515.4,646.6 526.1,655.6 535.3,662.3 544.3,656.4 553.9,664.6 562.7,662.1 571.6,653.3 581.4,661.9 590.6,685.3 600,664.2 609.1,668.9 618.5,688.8 627.9,666.8 637.5,662.3 649.2,663.2 683,671.6"/>
<polyline class="dl" points="710.3,667.1 728.4,681.4 738.6,677.1 747.4,671.6 756.2,669.1 765.9,673.6 774.3,689.6 783.9,681 793.7,676.3 802.7,680.6"/>
<polyline class="dl" points="830.4,669.1 839.8,687.3 848.9,689.4"/>
<polyline class="dl" points="894.2,693.5 904,690.4 915.7,690.4 922.9,692.5"/>
<line x1="498.5" y1="620.5" x2="498.5" y2="719.5" stroke="#ff0000" stroke-width="1"/>
<text x="64" y="645" text-anchor="end">-80</text>
<text x="64" y="684" text-anchor="end">-100</text>
<text x="64" y="723" text-anchor="end">-120</text>
<text x="73.5" y="737.5" text-anchor="middle">19:37:40</text>
<text x="258.1" y="737.5" text-anchor="middle">19:38:00</text>
<text x="442.7" y="737.5" text-anchor="middle">19:38:20</text>
<text x="627.3" y="737.5" text-anchor="middle">19:38:40</text>
<text x="811.9" y="737.5" text-anchor="middle">19:39:00</text>
<text x="996.5" y="737.5" text-anchor="middle">19:39:20</text>
<text x="534" y="759" text-anchor="middle">Time (UTC)</text>
<text transform="translate(17,669) rotate(-90)" text-anchor="middle">Power (dBm)</text>
</g>
</svg>
</body></html>
